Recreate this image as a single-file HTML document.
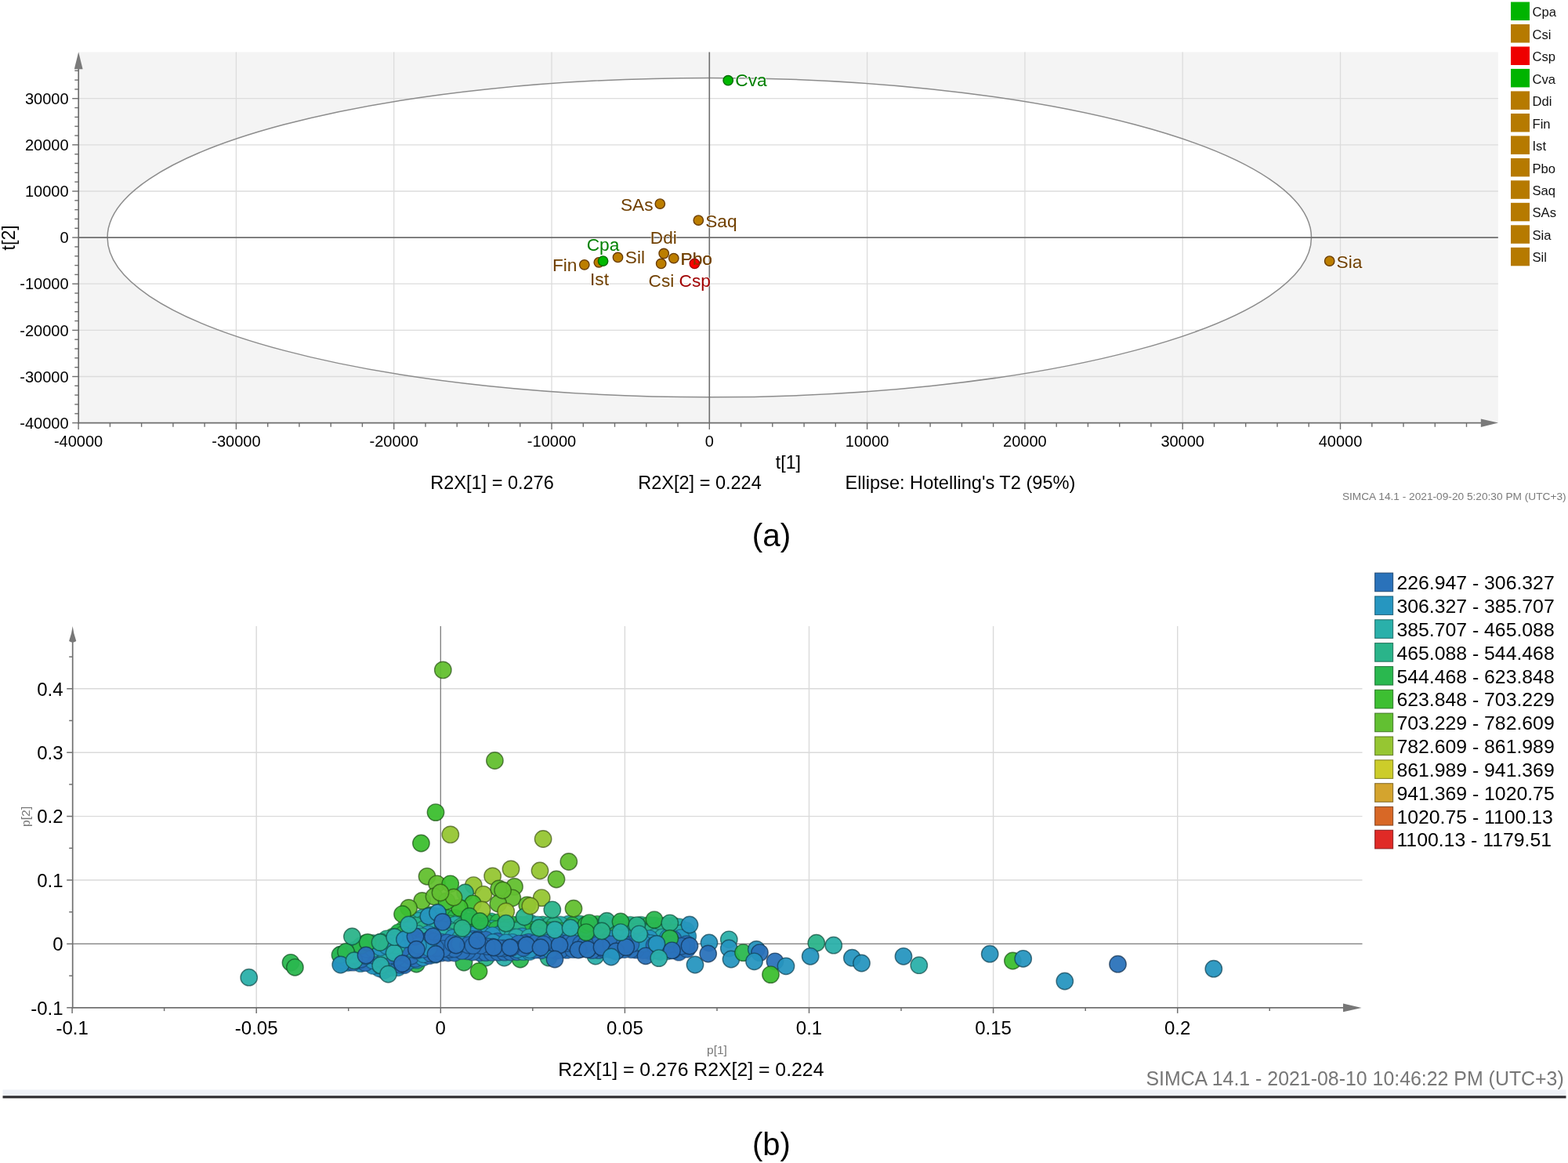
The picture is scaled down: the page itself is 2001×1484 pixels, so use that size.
<!DOCTYPE html>
<html><head><meta charset="utf-8"><title>SIMCA score and loading plots</title>
<style>
html,body{margin:0;padding:0;background:#fff;}
body{width:2001px;height:1484px;overflow:hidden;}
svg{display:block;font-family:'Liberation Sans', Arial, Helvetica, sans-serif;}
</style></head>
<body>
<svg width="2001" height="1484" viewBox="0 0 2001 1484">
<rect width="2001" height="1484" fill="#fff"/>
<rect x="101.0" y="66.5" width="1810.8" height="473.1" fill="#f4f4f4"/>
<ellipse cx="905.3" cy="303.1" rx="768.2" ry="203.7" fill="#ffffff"/>
<line x1="301.4" y1="66.5" x2="301.4" y2="539.6" stroke="#dcdcdc" stroke-width="1.3"/>
<line x1="502.7" y1="66.5" x2="502.7" y2="539.6" stroke="#dcdcdc" stroke-width="1.3"/>
<line x1="704.0" y1="66.5" x2="704.0" y2="539.6" stroke="#dcdcdc" stroke-width="1.3"/>
<line x1="1106.6" y1="66.5" x2="1106.6" y2="539.6" stroke="#dcdcdc" stroke-width="1.3"/>
<line x1="1307.9" y1="66.5" x2="1307.9" y2="539.6" stroke="#dcdcdc" stroke-width="1.3"/>
<line x1="1509.2" y1="66.5" x2="1509.2" y2="539.6" stroke="#dcdcdc" stroke-width="1.3"/>
<line x1="1710.5" y1="66.5" x2="1710.5" y2="539.6" stroke="#dcdcdc" stroke-width="1.3"/>
<line x1="100.2" y1="480.5" x2="1911.8" y2="480.5" stroke="#dcdcdc" stroke-width="1.3"/>
<line x1="100.2" y1="421.4" x2="1911.8" y2="421.4" stroke="#dcdcdc" stroke-width="1.3"/>
<line x1="100.2" y1="362.2" x2="1911.8" y2="362.2" stroke="#dcdcdc" stroke-width="1.3"/>
<line x1="100.2" y1="244.0" x2="1911.8" y2="244.0" stroke="#dcdcdc" stroke-width="1.3"/>
<line x1="100.2" y1="184.8" x2="1911.8" y2="184.8" stroke="#dcdcdc" stroke-width="1.3"/>
<line x1="100.2" y1="125.7" x2="1911.8" y2="125.7" stroke="#dcdcdc" stroke-width="1.3"/>
<ellipse cx="905.3" cy="303.1" rx="768.2" ry="203.7" fill="none" stroke="#8c8c8c" stroke-width="1.5"/>
<line x1="905.3" y1="66.5" x2="905.3" y2="539.6" stroke="#6e6e6e" stroke-width="1.6"/>
<line x1="100.2" y1="303.1" x2="1911.8" y2="303.1" stroke="#6e6e6e" stroke-width="1.6"/>
<line x1="100.2" y1="88" x2="100.2" y2="540.4" stroke="#6e6e6e" stroke-width="1.7"/>
<path d="M100.2 66.3 L105.6 88.2 L94.8 88.2 Z" fill="#7a7a7a"/>
<line x1="99.4" y1="539.6" x2="1890" y2="539.6" stroke="#6e6e6e" stroke-width="1.7"/>
<path d="M1912 539.6 L1889.8 534.6 L1889.8 545 Z" fill="#7a7a7a"/>
<line x1="92.2" y1="539.6" x2="100.2" y2="539.6" stroke="#6e6e6e" stroke-width="1.4"/>
<line x1="95.3" y1="527.8" x2="100.2" y2="527.8" stroke="#6e6e6e" stroke-width="1.4"/>
<line x1="95.3" y1="516.0" x2="100.2" y2="516.0" stroke="#6e6e6e" stroke-width="1.4"/>
<line x1="95.3" y1="504.1" x2="100.2" y2="504.1" stroke="#6e6e6e" stroke-width="1.4"/>
<line x1="95.3" y1="492.3" x2="100.2" y2="492.3" stroke="#6e6e6e" stroke-width="1.4"/>
<line x1="92.2" y1="480.5" x2="100.2" y2="480.5" stroke="#6e6e6e" stroke-width="1.4"/>
<line x1="95.3" y1="468.7" x2="100.2" y2="468.7" stroke="#6e6e6e" stroke-width="1.4"/>
<line x1="95.3" y1="456.8" x2="100.2" y2="456.8" stroke="#6e6e6e" stroke-width="1.4"/>
<line x1="95.3" y1="445.0" x2="100.2" y2="445.0" stroke="#6e6e6e" stroke-width="1.4"/>
<line x1="95.3" y1="433.2" x2="100.2" y2="433.2" stroke="#6e6e6e" stroke-width="1.4"/>
<line x1="92.2" y1="421.4" x2="100.2" y2="421.4" stroke="#6e6e6e" stroke-width="1.4"/>
<line x1="95.3" y1="409.5" x2="100.2" y2="409.5" stroke="#6e6e6e" stroke-width="1.4"/>
<line x1="95.3" y1="397.7" x2="100.2" y2="397.7" stroke="#6e6e6e" stroke-width="1.4"/>
<line x1="95.3" y1="385.9" x2="100.2" y2="385.9" stroke="#6e6e6e" stroke-width="1.4"/>
<line x1="95.3" y1="374.1" x2="100.2" y2="374.1" stroke="#6e6e6e" stroke-width="1.4"/>
<line x1="92.2" y1="362.2" x2="100.2" y2="362.2" stroke="#6e6e6e" stroke-width="1.4"/>
<line x1="95.3" y1="350.4" x2="100.2" y2="350.4" stroke="#6e6e6e" stroke-width="1.4"/>
<line x1="95.3" y1="338.6" x2="100.2" y2="338.6" stroke="#6e6e6e" stroke-width="1.4"/>
<line x1="95.3" y1="326.8" x2="100.2" y2="326.8" stroke="#6e6e6e" stroke-width="1.4"/>
<line x1="95.3" y1="314.9" x2="100.2" y2="314.9" stroke="#6e6e6e" stroke-width="1.4"/>
<line x1="92.2" y1="303.1" x2="100.2" y2="303.1" stroke="#6e6e6e" stroke-width="1.4"/>
<line x1="95.3" y1="291.3" x2="100.2" y2="291.3" stroke="#6e6e6e" stroke-width="1.4"/>
<line x1="95.3" y1="279.4" x2="100.2" y2="279.4" stroke="#6e6e6e" stroke-width="1.4"/>
<line x1="95.3" y1="267.6" x2="100.2" y2="267.6" stroke="#6e6e6e" stroke-width="1.4"/>
<line x1="95.3" y1="255.8" x2="100.2" y2="255.8" stroke="#6e6e6e" stroke-width="1.4"/>
<line x1="92.2" y1="244.0" x2="100.2" y2="244.0" stroke="#6e6e6e" stroke-width="1.4"/>
<line x1="95.3" y1="232.1" x2="100.2" y2="232.1" stroke="#6e6e6e" stroke-width="1.4"/>
<line x1="95.3" y1="220.3" x2="100.2" y2="220.3" stroke="#6e6e6e" stroke-width="1.4"/>
<line x1="95.3" y1="208.5" x2="100.2" y2="208.5" stroke="#6e6e6e" stroke-width="1.4"/>
<line x1="95.3" y1="196.7" x2="100.2" y2="196.7" stroke="#6e6e6e" stroke-width="1.4"/>
<line x1="92.2" y1="184.8" x2="100.2" y2="184.8" stroke="#6e6e6e" stroke-width="1.4"/>
<line x1="95.3" y1="173.0" x2="100.2" y2="173.0" stroke="#6e6e6e" stroke-width="1.4"/>
<line x1="95.3" y1="161.2" x2="100.2" y2="161.2" stroke="#6e6e6e" stroke-width="1.4"/>
<line x1="95.3" y1="149.4" x2="100.2" y2="149.4" stroke="#6e6e6e" stroke-width="1.4"/>
<line x1="95.3" y1="137.5" x2="100.2" y2="137.5" stroke="#6e6e6e" stroke-width="1.4"/>
<line x1="92.2" y1="125.7" x2="100.2" y2="125.7" stroke="#6e6e6e" stroke-width="1.4"/>
<line x1="95.3" y1="113.9" x2="100.2" y2="113.9" stroke="#6e6e6e" stroke-width="1.4"/>
<line x1="95.3" y1="102.1" x2="100.2" y2="102.1" stroke="#6e6e6e" stroke-width="1.4"/>
<line x1="95.3" y1="90.2" x2="100.2" y2="90.2" stroke="#6e6e6e" stroke-width="1.4"/>
<line x1="100.1" y1="539.6" x2="100.1" y2="547.9" stroke="#6e6e6e" stroke-width="1.4"/>
<line x1="140.4" y1="539.6" x2="140.4" y2="544.8" stroke="#6e6e6e" stroke-width="1.4"/>
<line x1="180.6" y1="539.6" x2="180.6" y2="544.8" stroke="#6e6e6e" stroke-width="1.4"/>
<line x1="220.9" y1="539.6" x2="220.9" y2="544.8" stroke="#6e6e6e" stroke-width="1.4"/>
<line x1="261.1" y1="539.6" x2="261.1" y2="544.8" stroke="#6e6e6e" stroke-width="1.4"/>
<line x1="301.4" y1="539.6" x2="301.4" y2="547.9" stroke="#6e6e6e" stroke-width="1.4"/>
<line x1="341.7" y1="539.6" x2="341.7" y2="544.8" stroke="#6e6e6e" stroke-width="1.4"/>
<line x1="381.9" y1="539.6" x2="381.9" y2="544.8" stroke="#6e6e6e" stroke-width="1.4"/>
<line x1="422.2" y1="539.6" x2="422.2" y2="544.8" stroke="#6e6e6e" stroke-width="1.4"/>
<line x1="462.4" y1="539.6" x2="462.4" y2="544.8" stroke="#6e6e6e" stroke-width="1.4"/>
<line x1="502.7" y1="539.6" x2="502.7" y2="547.9" stroke="#6e6e6e" stroke-width="1.4"/>
<line x1="543.0" y1="539.6" x2="543.0" y2="544.8" stroke="#6e6e6e" stroke-width="1.4"/>
<line x1="583.2" y1="539.6" x2="583.2" y2="544.8" stroke="#6e6e6e" stroke-width="1.4"/>
<line x1="623.5" y1="539.6" x2="623.5" y2="544.8" stroke="#6e6e6e" stroke-width="1.4"/>
<line x1="663.7" y1="539.6" x2="663.7" y2="544.8" stroke="#6e6e6e" stroke-width="1.4"/>
<line x1="704.0" y1="539.6" x2="704.0" y2="547.9" stroke="#6e6e6e" stroke-width="1.4"/>
<line x1="744.3" y1="539.6" x2="744.3" y2="544.8" stroke="#6e6e6e" stroke-width="1.4"/>
<line x1="784.5" y1="539.6" x2="784.5" y2="544.8" stroke="#6e6e6e" stroke-width="1.4"/>
<line x1="824.8" y1="539.6" x2="824.8" y2="544.8" stroke="#6e6e6e" stroke-width="1.4"/>
<line x1="865.0" y1="539.6" x2="865.0" y2="544.8" stroke="#6e6e6e" stroke-width="1.4"/>
<line x1="905.3" y1="539.6" x2="905.3" y2="547.9" stroke="#6e6e6e" stroke-width="1.4"/>
<line x1="945.6" y1="539.6" x2="945.6" y2="544.8" stroke="#6e6e6e" stroke-width="1.4"/>
<line x1="985.8" y1="539.6" x2="985.8" y2="544.8" stroke="#6e6e6e" stroke-width="1.4"/>
<line x1="1026.1" y1="539.6" x2="1026.1" y2="544.8" stroke="#6e6e6e" stroke-width="1.4"/>
<line x1="1066.3" y1="539.6" x2="1066.3" y2="544.8" stroke="#6e6e6e" stroke-width="1.4"/>
<line x1="1106.6" y1="539.6" x2="1106.6" y2="547.9" stroke="#6e6e6e" stroke-width="1.4"/>
<line x1="1146.9" y1="539.6" x2="1146.9" y2="544.8" stroke="#6e6e6e" stroke-width="1.4"/>
<line x1="1187.1" y1="539.6" x2="1187.1" y2="544.8" stroke="#6e6e6e" stroke-width="1.4"/>
<line x1="1227.4" y1="539.6" x2="1227.4" y2="544.8" stroke="#6e6e6e" stroke-width="1.4"/>
<line x1="1267.6" y1="539.6" x2="1267.6" y2="544.8" stroke="#6e6e6e" stroke-width="1.4"/>
<line x1="1307.9" y1="539.6" x2="1307.9" y2="547.9" stroke="#6e6e6e" stroke-width="1.4"/>
<line x1="1348.2" y1="539.6" x2="1348.2" y2="544.8" stroke="#6e6e6e" stroke-width="1.4"/>
<line x1="1388.4" y1="539.6" x2="1388.4" y2="544.8" stroke="#6e6e6e" stroke-width="1.4"/>
<line x1="1428.7" y1="539.6" x2="1428.7" y2="544.8" stroke="#6e6e6e" stroke-width="1.4"/>
<line x1="1468.9" y1="539.6" x2="1468.9" y2="544.8" stroke="#6e6e6e" stroke-width="1.4"/>
<line x1="1509.2" y1="539.6" x2="1509.2" y2="547.9" stroke="#6e6e6e" stroke-width="1.4"/>
<line x1="1549.5" y1="539.6" x2="1549.5" y2="544.8" stroke="#6e6e6e" stroke-width="1.4"/>
<line x1="1589.7" y1="539.6" x2="1589.7" y2="544.8" stroke="#6e6e6e" stroke-width="1.4"/>
<line x1="1630.0" y1="539.6" x2="1630.0" y2="544.8" stroke="#6e6e6e" stroke-width="1.4"/>
<line x1="1670.2" y1="539.6" x2="1670.2" y2="544.8" stroke="#6e6e6e" stroke-width="1.4"/>
<line x1="1710.5" y1="539.6" x2="1710.5" y2="547.9" stroke="#6e6e6e" stroke-width="1.4"/>
<line x1="1750.8" y1="539.6" x2="1750.8" y2="544.8" stroke="#6e6e6e" stroke-width="1.4"/>
<line x1="1791.0" y1="539.6" x2="1791.0" y2="544.8" stroke="#6e6e6e" stroke-width="1.4"/>
<line x1="1831.3" y1="539.6" x2="1831.3" y2="544.8" stroke="#6e6e6e" stroke-width="1.4"/>
<line x1="1871.5" y1="539.6" x2="1871.5" y2="544.8" stroke="#6e6e6e" stroke-width="1.4"/>
<text x="87.6" y="546.7" text-anchor="end" font-size="20" fill="#000">-40000</text>
<text x="87.6" y="487.6" text-anchor="end" font-size="20" fill="#000">-30000</text>
<text x="87.6" y="428.5" text-anchor="end" font-size="20" fill="#000">-20000</text>
<text x="87.6" y="369.3" text-anchor="end" font-size="20" fill="#000">-10000</text>
<text x="87.6" y="310.2" text-anchor="end" font-size="20" fill="#000">0</text>
<text x="87.6" y="251.1" text-anchor="end" font-size="20" fill="#000">10000</text>
<text x="87.6" y="191.9" text-anchor="end" font-size="20" fill="#000">20000</text>
<text x="87.6" y="132.8" text-anchor="end" font-size="20" fill="#000">30000</text>
<text x="100.1" y="569.9" text-anchor="middle" font-size="20" fill="#000">-40000</text>
<text x="301.4" y="569.9" text-anchor="middle" font-size="20" fill="#000">-30000</text>
<text x="502.7" y="569.9" text-anchor="middle" font-size="20" fill="#000">-20000</text>
<text x="704.0" y="569.9" text-anchor="middle" font-size="20" fill="#000">-10000</text>
<text x="905.3" y="569.9" text-anchor="middle" font-size="20" fill="#000">0</text>
<text x="1106.6" y="569.9" text-anchor="middle" font-size="20" fill="#000">10000</text>
<text x="1307.9" y="569.9" text-anchor="middle" font-size="20" fill="#000">20000</text>
<text x="1509.2" y="569.9" text-anchor="middle" font-size="20" fill="#000">30000</text>
<text x="1710.5" y="569.9" text-anchor="middle" font-size="20" fill="#000">40000</text>
<text x="1005.9" y="597.8" text-anchor="middle" font-size="23.2" fill="#000">t[1]</text>
<text transform="translate(19.4 303.3) rotate(-90)" text-anchor="middle" font-size="23.2" fill="#000">t[2]</text>
<text x="549.3" y="623.7" font-size="23.5" fill="#000">R2X[1] = 0.276</text>
<text x="814.3" y="623.7" font-size="23.5" fill="#000">R2X[2] = 0.224</text>
<text x="1078.5" y="623.7" font-size="23.6" fill="#000">Ellipse: Hotelling's T2 (95%)</text>
<text x="1712.9" y="638" font-size="13.7" fill="#7a7a7a">SIMCA 14.1 - 2021-09-20 5:20:30 PM (UTC+3)</text>
<text x="984.4" y="697" text-anchor="middle" font-size="40.5" fill="#000">(a)</text>
<rect x="1928" y="2.5" width="24" height="23.5" fill="#00b400"/>
<text x="1955.5" y="21.1" font-size="16.6" fill="#111">Cpa</text>
<rect x="1928" y="31.0" width="24" height="23.5" fill="#b67a00"/>
<text x="1955.5" y="49.6" font-size="16.6" fill="#111">Csi</text>
<rect x="1928" y="59.5" width="24" height="23.5" fill="#ee0000"/>
<text x="1955.5" y="78.1" font-size="16.6" fill="#111">Csp</text>
<rect x="1928" y="87.9" width="24" height="23.5" fill="#00b400"/>
<text x="1955.5" y="106.5" font-size="16.6" fill="#111">Cva</text>
<rect x="1928" y="116.4" width="24" height="23.5" fill="#b67a00"/>
<text x="1955.5" y="135.0" font-size="16.6" fill="#111">Ddi</text>
<rect x="1928" y="144.9" width="24" height="23.5" fill="#b67a00"/>
<text x="1955.5" y="163.5" font-size="16.6" fill="#111">Fin</text>
<rect x="1928" y="173.4" width="24" height="23.5" fill="#b67a00"/>
<text x="1955.5" y="192.0" font-size="16.6" fill="#111">Ist</text>
<rect x="1928" y="201.9" width="24" height="23.5" fill="#b67a00"/>
<text x="1955.5" y="220.5" font-size="16.6" fill="#111">Pbo</text>
<rect x="1928" y="230.3" width="24" height="23.5" fill="#b67a00"/>
<text x="1955.5" y="248.9" font-size="16.6" fill="#111">Saq</text>
<rect x="1928" y="258.8" width="24" height="23.5" fill="#b67a00"/>
<text x="1955.5" y="277.4" font-size="16.6" fill="#111">SAs</text>
<rect x="1928" y="287.3" width="24" height="23.5" fill="#b67a00"/>
<text x="1955.5" y="305.9" font-size="16.6" fill="#111">Sia</text>
<rect x="1928" y="315.8" width="24" height="23.5" fill="#b67a00"/>
<text x="1955.5" y="334.4" font-size="16.6" fill="#111">Sil</text>
<text x="833.5" y="268.5" text-anchor="end" font-size="22.7" fill="#704000" stroke="#fff" stroke-width="2" stroke-opacity="0.6" paint-order="stroke">SAs</text>
<text x="900.2" y="289.5" text-anchor="start" font-size="22.7" fill="#704000" stroke="#fff" stroke-width="2" stroke-opacity="0.6" paint-order="stroke">Saq</text>
<text x="736.5" y="345.9" text-anchor="end" font-size="22.7" fill="#704000" stroke="#fff" stroke-width="2" stroke-opacity="0.6" paint-order="stroke">Fin</text>
<text x="765.0" y="364.3" text-anchor="middle" font-size="22.7" fill="#704000" stroke="#fff" stroke-width="2" stroke-opacity="0.6" paint-order="stroke">Ist</text>
<text x="769.5" y="319.6" text-anchor="middle" font-size="22.7" fill="#008000" stroke="#fff" stroke-width="2" stroke-opacity="0.6" paint-order="stroke">Cpa</text>
<text x="797.8" y="336.4" text-anchor="start" font-size="22.7" fill="#704000" stroke="#fff" stroke-width="2" stroke-opacity="0.6" paint-order="stroke">Sil</text>
<text x="846.8" y="310.5" text-anchor="middle" font-size="22.7" fill="#704000" stroke="#fff" stroke-width="2" stroke-opacity="0.6" paint-order="stroke">Ddi</text>
<text x="843.9" y="365.7" text-anchor="middle" font-size="22.7" fill="#704000" stroke="#fff" stroke-width="2" stroke-opacity="0.6" paint-order="stroke">Csi</text>
<text x="868.5" y="337.7" text-anchor="start" font-size="22.7" fill="#704000" stroke="#fff" stroke-width="2" stroke-opacity="0.6" paint-order="stroke">Pbo</text>
<text x="886.7" y="365.7" text-anchor="middle" font-size="22.7" fill="#a00000" stroke="#fff" stroke-width="2" stroke-opacity="0.6" paint-order="stroke">Csp</text>
<text x="938.3" y="110.2" text-anchor="start" font-size="22.7" fill="#008000" stroke="#fff" stroke-width="2" stroke-opacity="0.6" paint-order="stroke">Cva</text>
<text x="1705.5" y="341.6" text-anchor="start" font-size="22.7" fill="#704000" stroke="#fff" stroke-width="2" stroke-opacity="0.6" paint-order="stroke">Sia</text>
<circle cx="842.3" cy="260.1" r="6.2" fill="#bc7e00" stroke="#6a3c00" stroke-width="1.4"/>
<circle cx="891.3" cy="281.1" r="6.2" fill="#bc7e00" stroke="#6a3c00" stroke-width="1.4"/>
<circle cx="745.8" cy="337.8" r="6.2" fill="#bc7e00" stroke="#6a3c00" stroke-width="1.4"/>
<circle cx="764.3" cy="334.8" r="6.2" fill="#bc7e00" stroke="#6a3c00" stroke-width="1.4"/>
<circle cx="769.6" cy="333.1" r="6.2" fill="#00b800" stroke="#006a00" stroke-width="1.4"/>
<circle cx="788.5" cy="328.4" r="6.2" fill="#bc7e00" stroke="#6a3c00" stroke-width="1.4"/>
<circle cx="847.2" cy="323.5" r="6.2" fill="#bc7e00" stroke="#6a3c00" stroke-width="1.4"/>
<circle cx="843.7" cy="336.4" r="6.2" fill="#bc7e00" stroke="#6a3c00" stroke-width="1.4"/>
<circle cx="859.8" cy="329.6" r="6.2" fill="#bc7e00" stroke="#6a3c00" stroke-width="1.4"/>
<circle cx="886.4" cy="336.4" r="6.2" fill="#ff0000" stroke="#a00000" stroke-width="1.4"/>
<circle cx="929.2" cy="102.7" r="6.2" fill="#00b800" stroke="#006a00" stroke-width="1.4"/>
<circle cx="1696.7" cy="333.1" r="6.2" fill="#bc7e00" stroke="#6a3c00" stroke-width="1.4"/>
<text x="868.5" y="337.7" font-size="22.7" fill="#704000" fill-opacity="0.8">Pbo</text>
<defs><filter id="soft" x="0" y="0" width="1" height="1"><feGaussianBlur stdDeviation="0.45"/></filter></defs>
<g filter="url(#soft)">
<line x1="327.2" y1="799.0" x2="327.2" y2="1285.9" stroke="#dadada" stroke-width="1.4"/>
<line x1="797.4" y1="799.0" x2="797.4" y2="1285.9" stroke="#dadada" stroke-width="1.4"/>
<line x1="1032.5" y1="799.0" x2="1032.5" y2="1285.9" stroke="#dadada" stroke-width="1.4"/>
<line x1="1267.6" y1="799.0" x2="1267.6" y2="1285.9" stroke="#dadada" stroke-width="1.4"/>
<line x1="1502.7" y1="799.0" x2="1502.7" y2="1285.9" stroke="#dadada" stroke-width="1.4"/>
<line x1="92.7" y1="1123.0" x2="1738.5" y2="1123.0" stroke="#dadada" stroke-width="1.4"/>
<line x1="92.7" y1="1041.6" x2="1738.5" y2="1041.6" stroke="#dadada" stroke-width="1.4"/>
<line x1="92.7" y1="960.2" x2="1738.5" y2="960.2" stroke="#dadada" stroke-width="1.4"/>
<line x1="92.7" y1="878.8" x2="1738.5" y2="878.8" stroke="#dadada" stroke-width="1.4"/>
<line x1="562.3" y1="799.0" x2="562.3" y2="1285.9" stroke="#7c7c7c" stroke-width="1.3"/>
<line x1="92.7" y1="1204.4" x2="1738.5" y2="1204.4" stroke="#7c7c7c" stroke-width="1.3"/>
<line x1="92.7" y1="818" x2="92.7" y2="1286.6000000000001" stroke="#707070" stroke-width="1.7"/>
<path d="M92.7 799 Q93.7 808 97.3 818 Q92.7 821.5 88.10000000000001 818 Q91.7 808 92.7 799 Z" fill="#777"/>
<line x1="91.9" y1="1285.9" x2="1716" y2="1285.9" stroke="#707070" stroke-width="1.7"/>
<path d="M1737.5 1285.9 L1714 1280.6 L1714 1291.2 Z" fill="#777"/>
<line x1="85.2" y1="1285.8" x2="92.7" y2="1285.8" stroke="#707070" stroke-width="1.5"/>
<line x1="88.2" y1="1245.1" x2="92.7" y2="1245.1" stroke="#707070" stroke-width="1.5"/>
<line x1="85.2" y1="1204.4" x2="92.7" y2="1204.4" stroke="#707070" stroke-width="1.5"/>
<line x1="88.2" y1="1163.7" x2="92.7" y2="1163.7" stroke="#707070" stroke-width="1.5"/>
<line x1="85.2" y1="1123.0" x2="92.7" y2="1123.0" stroke="#707070" stroke-width="1.5"/>
<line x1="88.2" y1="1082.3" x2="92.7" y2="1082.3" stroke="#707070" stroke-width="1.5"/>
<line x1="85.2" y1="1041.6" x2="92.7" y2="1041.6" stroke="#707070" stroke-width="1.5"/>
<line x1="88.2" y1="1000.9" x2="92.7" y2="1000.9" stroke="#707070" stroke-width="1.5"/>
<line x1="85.2" y1="960.2" x2="92.7" y2="960.2" stroke="#707070" stroke-width="1.5"/>
<line x1="88.2" y1="919.5" x2="92.7" y2="919.5" stroke="#707070" stroke-width="1.5"/>
<line x1="85.2" y1="878.8" x2="92.7" y2="878.8" stroke="#707070" stroke-width="1.5"/>
<line x1="88.2" y1="838.1" x2="92.7" y2="838.1" stroke="#707070" stroke-width="1.5"/>
<line x1="92.1" y1="1285.9" x2="92.1" y2="1292.9" stroke="#707070" stroke-width="1.5"/>
<line x1="209.6" y1="1285.9" x2="209.6" y2="1290.1" stroke="#707070" stroke-width="1.5"/>
<line x1="327.2" y1="1285.9" x2="327.2" y2="1292.9" stroke="#707070" stroke-width="1.5"/>
<line x1="444.7" y1="1285.9" x2="444.7" y2="1290.1" stroke="#707070" stroke-width="1.5"/>
<line x1="562.3" y1="1285.9" x2="562.3" y2="1292.9" stroke="#707070" stroke-width="1.5"/>
<line x1="679.8" y1="1285.9" x2="679.8" y2="1290.1" stroke="#707070" stroke-width="1.5"/>
<line x1="797.4" y1="1285.9" x2="797.4" y2="1292.9" stroke="#707070" stroke-width="1.5"/>
<line x1="915.0" y1="1285.9" x2="915.0" y2="1290.1" stroke="#707070" stroke-width="1.5"/>
<line x1="1032.5" y1="1285.9" x2="1032.5" y2="1292.9" stroke="#707070" stroke-width="1.5"/>
<line x1="1150.0" y1="1285.9" x2="1150.0" y2="1290.1" stroke="#707070" stroke-width="1.5"/>
<line x1="1267.6" y1="1285.9" x2="1267.6" y2="1292.9" stroke="#707070" stroke-width="1.5"/>
<line x1="1385.2" y1="1285.9" x2="1385.2" y2="1290.1" stroke="#707070" stroke-width="1.5"/>
<line x1="1502.7" y1="1285.9" x2="1502.7" y2="1292.9" stroke="#707070" stroke-width="1.5"/>
<line x1="1620.2" y1="1285.9" x2="1620.2" y2="1290.1" stroke="#707070" stroke-width="1.5"/>
<text x="80.5" y="887.6" text-anchor="end" font-size="24" fill="#000">0.4</text>
<text x="80.5" y="969.0" text-anchor="end" font-size="24" fill="#000">0.3</text>
<text x="80.5" y="1050.4" text-anchor="end" font-size="24" fill="#000">0.2</text>
<text x="80.5" y="1131.8" text-anchor="end" font-size="24" fill="#000">0.1</text>
<text x="80.5" y="1213.2" text-anchor="end" font-size="24" fill="#000">0</text>
<text x="80.5" y="1294.6" text-anchor="end" font-size="24" fill="#000">-0.1</text>
<text x="92.1" y="1320.3" text-anchor="middle" font-size="24" fill="#000">-0.1</text>
<text x="327.2" y="1320.3" text-anchor="middle" font-size="24" fill="#000">-0.05</text>
<text x="562.3" y="1320.3" text-anchor="middle" font-size="24" fill="#000">0</text>
<text x="797.4" y="1320.3" text-anchor="middle" font-size="24" fill="#000">0.05</text>
<text x="1032.5" y="1320.3" text-anchor="middle" font-size="24" fill="#000">0.1</text>
<text x="1267.6" y="1320.3" text-anchor="middle" font-size="24" fill="#000">0.15</text>
<text x="1502.7" y="1320.3" text-anchor="middle" font-size="24" fill="#000">0.2</text>
<text x="915" y="1345" text-anchor="middle" font-size="15.5" fill="#777">p[1]</text>
<text transform="translate(37.5 1042) rotate(-90)" text-anchor="middle" font-size="15.5" fill="#777">p[2]</text>
<text x="712.3" y="1372.6" font-size="24.8" fill="#000">R2X[1] = 0.276 R2X[2] = 0.224</text>
<text x="1462.4" y="1385" font-size="24.9" fill="#777">SIMCA 14.1 - 2021-08-10 10:46:22 PM (UTC+3)</text>
<rect x="3.5" y="1390.5" width="1995" height="7.5" fill="#eef1f7"/>
<rect x="3.5" y="1398.2" width="1995" height="3.2" fill="#2e2e33"/>
<rect x="1754.6" y="731.1" width="23" height="23.6" fill="#2b72ba" stroke="#173e66" stroke-opacity="0.8" stroke-width="1.1"/>
<text x="1782.4" y="752.2" font-size="24.8" fill="#000">226.947 - 306.327</text>
<rect x="1754.6" y="760.9" width="23" height="23.6" fill="#2796c0" stroke="#155269" stroke-opacity="0.8" stroke-width="1.1"/>
<text x="1782.4" y="782.0" font-size="24.8" fill="#000">306.327 - 385.707</text>
<rect x="1754.6" y="790.8" width="23" height="23.6" fill="#2bb0aa" stroke="#17605d" stroke-opacity="0.8" stroke-width="1.1"/>
<text x="1782.4" y="811.9" font-size="24.8" fill="#000">385.707 - 465.088</text>
<rect x="1754.6" y="820.6" width="23" height="23.6" fill="#2ab48a" stroke="#17634b" stroke-opacity="0.8" stroke-width="1.1"/>
<text x="1782.4" y="841.7" font-size="24.8" fill="#000">465.088 - 544.468</text>
<rect x="1754.6" y="850.5" width="23" height="23.6" fill="#2bb850" stroke="#17652c" stroke-opacity="0.8" stroke-width="1.1"/>
<text x="1782.4" y="871.6" font-size="24.8" fill="#000">544.468 - 623.848</text>
<rect x="1754.6" y="880.3" width="23" height="23.6" fill="#3cbf30" stroke="#21691a" stroke-opacity="0.8" stroke-width="1.1"/>
<text x="1782.4" y="901.4" font-size="24.8" fill="#000">623.848 - 703.229</text>
<rect x="1754.6" y="910.1" width="23" height="23.6" fill="#62c030" stroke="#35691a" stroke-opacity="0.8" stroke-width="1.1"/>
<text x="1782.4" y="931.2" font-size="24.8" fill="#000">703.229 - 782.609</text>
<rect x="1754.6" y="940.0" width="23" height="23.6" fill="#96c632" stroke="#526c1b" stroke-opacity="0.8" stroke-width="1.1"/>
<text x="1782.4" y="961.1" font-size="24.8" fill="#000">782.609 - 861.989</text>
<rect x="1754.6" y="969.8" width="23" height="23.6" fill="#cccc2a" stroke="#707017" stroke-opacity="0.8" stroke-width="1.1"/>
<text x="1782.4" y="990.9" font-size="24.8" fill="#000">861.989 - 941.369</text>
<rect x="1754.6" y="999.7" width="23" height="23.6" fill="#d4a42e" stroke="#745a19" stroke-opacity="0.8" stroke-width="1.1"/>
<text x="1782.4" y="1020.8" font-size="24.8" fill="#000">941.369 - 1020.75</text>
<rect x="1754.6" y="1029.5" width="23" height="23.6" fill="#d86828" stroke="#763916" stroke-opacity="0.8" stroke-width="1.1"/>
<text x="1782.4" y="1050.6" font-size="24.8" fill="#000">1020.75 - 1100.13</text>
<rect x="1754.6" y="1059.3" width="23" height="23.6" fill="#e02a26" stroke="#7b1714" stroke-opacity="0.8" stroke-width="1.1"/>
<text x="1782.4" y="1080.4" font-size="24.8" fill="#000">1100.13 - 1179.51</text>
<circle cx="531.4" cy="1230.0" r="10.7" fill="#2bb850" fill-opacity="0.95" stroke="#114920" stroke-opacity="0.68" stroke-width="1.4"/>
<circle cx="592.0" cy="1228.0" r="10.7" fill="#2bb850" fill-opacity="0.95" stroke="#114920" stroke-opacity="0.68" stroke-width="1.4"/>
<circle cx="643.5" cy="1222.0" r="10.7" fill="#2bb0aa" fill-opacity="0.95" stroke="#114644" stroke-opacity="0.68" stroke-width="1.4"/>
<circle cx="664.0" cy="1224.0" r="10.7" fill="#2bb850" fill-opacity="0.95" stroke="#114920" stroke-opacity="0.68" stroke-width="1.4"/>
<circle cx="620.0" cy="1222.0" r="10.7" fill="#2ab48a" fill-opacity="0.95" stroke="#104837" stroke-opacity="0.68" stroke-width="1.4"/>
<circle cx="700.0" cy="1222.0" r="10.7" fill="#2ab48a" fill-opacity="0.95" stroke="#104837" stroke-opacity="0.68" stroke-width="1.4"/>
<circle cx="760.0" cy="1220.0" r="10.7" fill="#2bb0aa" fill-opacity="0.95" stroke="#114644" stroke-opacity="0.68" stroke-width="1.4"/>
<circle cx="549.7" cy="1167.4" r="10.7" fill="#2bb850" stroke="#124d21" stroke-opacity="0.45" stroke-width="1.4"/>
<circle cx="556.8" cy="1169.1" r="10.7" fill="#2bb850" stroke="#124d21" stroke-opacity="0.45" stroke-width="1.4"/>
<circle cx="562.3" cy="1169.7" r="10.7" fill="#2ab48a" stroke="#114b39" stroke-opacity="0.45" stroke-width="1.4"/>
<circle cx="539.0" cy="1170.9" r="10.7" fill="#2bb0aa" stroke="#124947" stroke-opacity="0.45" stroke-width="1.4"/>
<circle cx="571.7" cy="1171.2" r="10.7" fill="#2bb850" stroke="#124d21" stroke-opacity="0.45" stroke-width="1.4"/>
<circle cx="580.9" cy="1171.3" r="10.7" fill="#2bb850" stroke="#124d21" stroke-opacity="0.45" stroke-width="1.4"/>
<circle cx="588.8" cy="1173.0" r="10.7" fill="#2ab48a" stroke="#114b39" stroke-opacity="0.45" stroke-width="1.4"/>
<circle cx="533.6" cy="1175.0" r="10.7" fill="#2bb0aa" stroke="#124947" stroke-opacity="0.45" stroke-width="1.4"/>
<circle cx="602.5" cy="1175.3" r="10.7" fill="#2bb850" stroke="#124d21" stroke-opacity="0.45" stroke-width="1.4"/>
<circle cx="490.3" cy="1238.5" r="10.7" fill="#2b72ba" stroke="#122f4e" stroke-opacity="0.45" stroke-width="1.4"/>
<circle cx="554.6" cy="1175.5" r="10.7" fill="#2ab48a" stroke="#114b39" stroke-opacity="0.45" stroke-width="1.4"/>
<circle cx="595.8" cy="1175.5" r="10.7" fill="#2bb850" stroke="#124d21" stroke-opacity="0.45" stroke-width="1.4"/>
<circle cx="546.1" cy="1175.5" r="10.7" fill="#2ab48a" stroke="#114b39" stroke-opacity="0.45" stroke-width="1.4"/>
<circle cx="626.6" cy="1175.7" r="10.7" fill="#2ab48a" stroke="#114b39" stroke-opacity="0.45" stroke-width="1.4"/>
<circle cx="612.5" cy="1175.9" r="10.7" fill="#2bb850" stroke="#124d21" stroke-opacity="0.45" stroke-width="1.4"/>
<circle cx="620.8" cy="1176.7" r="10.7" fill="#2bb850" stroke="#124d21" stroke-opacity="0.45" stroke-width="1.4"/>
<circle cx="635.9" cy="1176.7" r="10.7" fill="#2bb850" stroke="#124d21" stroke-opacity="0.45" stroke-width="1.4"/>
<circle cx="523.2" cy="1177.7" r="10.7" fill="#2ab48a" stroke="#114b39" stroke-opacity="0.45" stroke-width="1.4"/>
<circle cx="677.2" cy="1177.9" r="10.7" fill="#2bb0aa" stroke="#124947" stroke-opacity="0.45" stroke-width="1.4"/>
<circle cx="484.0" cy="1235.6" r="10.7" fill="#2796c0" stroke="#103f50" stroke-opacity="0.45" stroke-width="1.4"/>
<circle cx="573.5" cy="1178.6" r="10.7" fill="#2bb850" stroke="#124d21" stroke-opacity="0.45" stroke-width="1.4"/>
<circle cx="770.8" cy="1178.7" r="10.7" fill="#2ab48a" stroke="#114b39" stroke-opacity="0.45" stroke-width="1.4"/>
<circle cx="564.9" cy="1178.7" r="10.7" fill="#2bb0aa" stroke="#124947" stroke-opacity="0.45" stroke-width="1.4"/>
<circle cx="725.7" cy="1178.9" r="10.7" fill="#2bb0aa" stroke="#124947" stroke-opacity="0.45" stroke-width="1.4"/>
<circle cx="644.5" cy="1178.9" r="10.7" fill="#2bb850" stroke="#124d21" stroke-opacity="0.45" stroke-width="1.4"/>
<circle cx="501.2" cy="1235.0" r="10.7" fill="#2796c0" stroke="#103f50" stroke-opacity="0.45" stroke-width="1.4"/>
<circle cx="740.1" cy="1179.0" r="10.7" fill="#2ab48a" stroke="#114b39" stroke-opacity="0.45" stroke-width="1.4"/>
<circle cx="794.8" cy="1179.0" r="10.7" fill="#2ab48a" stroke="#114b39" stroke-opacity="0.45" stroke-width="1.4"/>
<circle cx="762.1" cy="1179.1" r="10.7" fill="#2bb850" stroke="#124d21" stroke-opacity="0.45" stroke-width="1.4"/>
<circle cx="508.0" cy="1234.8" r="10.7" fill="#2796c0" stroke="#103f50" stroke-opacity="0.45" stroke-width="1.4"/>
<circle cx="539.0" cy="1179.3" r="10.7" fill="#2ab48a" stroke="#114b39" stroke-opacity="0.45" stroke-width="1.4"/>
<circle cx="660.9" cy="1179.6" r="10.7" fill="#2bb850" stroke="#124d21" stroke-opacity="0.45" stroke-width="1.4"/>
<circle cx="652.5" cy="1179.6" r="10.7" fill="#2bb850" stroke="#124d21" stroke-opacity="0.45" stroke-width="1.4"/>
<circle cx="788.1" cy="1179.8" r="10.7" fill="#2ab48a" stroke="#114b39" stroke-opacity="0.45" stroke-width="1.4"/>
<circle cx="692.6" cy="1179.8" r="10.7" fill="#2ab48a" stroke="#114b39" stroke-opacity="0.45" stroke-width="1.4"/>
<circle cx="580.9" cy="1179.9" r="10.7" fill="#2bb0aa" stroke="#124947" stroke-opacity="0.45" stroke-width="1.4"/>
<circle cx="715.1" cy="1179.9" r="10.7" fill="#2bb0aa" stroke="#124947" stroke-opacity="0.45" stroke-width="1.4"/>
<circle cx="685.4" cy="1180.0" r="10.7" fill="#2bb0aa" stroke="#124947" stroke-opacity="0.45" stroke-width="1.4"/>
<circle cx="701.9" cy="1180.1" r="10.7" fill="#2ab48a" stroke="#114b39" stroke-opacity="0.45" stroke-width="1.4"/>
<circle cx="804.4" cy="1180.1" r="10.7" fill="#2ab48a" stroke="#114b39" stroke-opacity="0.45" stroke-width="1.4"/>
<circle cx="818.0" cy="1180.1" r="10.7" fill="#2ab48a" stroke="#114b39" stroke-opacity="0.45" stroke-width="1.4"/>
<circle cx="667.3" cy="1180.2" r="10.7" fill="#2bb850" stroke="#124d21" stroke-opacity="0.45" stroke-width="1.4"/>
<circle cx="828.1" cy="1180.5" r="10.7" fill="#2bb850" stroke="#124d21" stroke-opacity="0.45" stroke-width="1.4"/>
<circle cx="755.0" cy="1180.7" r="10.7" fill="#2ab48a" stroke="#114b39" stroke-opacity="0.45" stroke-width="1.4"/>
<circle cx="730.4" cy="1180.7" r="10.7" fill="#2bb850" stroke="#124d21" stroke-opacity="0.45" stroke-width="1.4"/>
<circle cx="835.0" cy="1180.7" r="10.7" fill="#2ab48a" stroke="#114b39" stroke-opacity="0.45" stroke-width="1.4"/>
<circle cx="707.6" cy="1180.9" r="10.7" fill="#2ab48a" stroke="#114b39" stroke-opacity="0.45" stroke-width="1.4"/>
<circle cx="749.0" cy="1180.9" r="10.7" fill="#2bb850" stroke="#124d21" stroke-opacity="0.45" stroke-width="1.4"/>
<circle cx="859.5" cy="1181.1" r="10.7" fill="#2bb850" stroke="#124d21" stroke-opacity="0.45" stroke-width="1.4"/>
<circle cx="531.0" cy="1181.1" r="10.7" fill="#2ab48a" stroke="#114b39" stroke-opacity="0.45" stroke-width="1.4"/>
<circle cx="850.6" cy="1181.4" r="10.7" fill="#2ab48a" stroke="#114b39" stroke-opacity="0.45" stroke-width="1.4"/>
<circle cx="845.9" cy="1181.5" r="10.7" fill="#2bb850" stroke="#124d21" stroke-opacity="0.45" stroke-width="1.4"/>
<circle cx="781.4" cy="1181.5" r="10.7" fill="#2ab48a" stroke="#114b39" stroke-opacity="0.45" stroke-width="1.4"/>
<circle cx="813.6" cy="1181.5" r="10.7" fill="#2ab48a" stroke="#114b39" stroke-opacity="0.45" stroke-width="1.4"/>
<circle cx="476.0" cy="1232.4" r="10.7" fill="#2796c0" stroke="#103f50" stroke-opacity="0.45" stroke-width="1.4"/>
<circle cx="485.1" cy="1232.0" r="10.7" fill="#2796c0" stroke="#103f50" stroke-opacity="0.45" stroke-width="1.4"/>
<circle cx="588.5" cy="1182.3" r="10.7" fill="#2ab48a" stroke="#114b39" stroke-opacity="0.45" stroke-width="1.4"/>
<circle cx="516.0" cy="1231.6" r="10.7" fill="#2b72ba" stroke="#122f4e" stroke-opacity="0.45" stroke-width="1.4"/>
<circle cx="866.6" cy="1182.7" r="10.7" fill="#2bb0aa" stroke="#124947" stroke-opacity="0.45" stroke-width="1.4"/>
<circle cx="595.3" cy="1182.8" r="10.7" fill="#2bb850" stroke="#124d21" stroke-opacity="0.45" stroke-width="1.4"/>
<circle cx="547.8" cy="1182.9" r="10.7" fill="#2bb850" stroke="#124d21" stroke-opacity="0.45" stroke-width="1.4"/>
<circle cx="509.9" cy="1231.0" r="10.7" fill="#2b72ba" stroke="#122f4e" stroke-opacity="0.45" stroke-width="1.4"/>
<circle cx="493.9" cy="1229.8" r="10.7" fill="#2b72ba" stroke="#122f4e" stroke-opacity="0.45" stroke-width="1.4"/>
<circle cx="605.3" cy="1184.3" r="10.7" fill="#2ab48a" stroke="#114b39" stroke-opacity="0.45" stroke-width="1.4"/>
<circle cx="460.0" cy="1229.6" r="10.7" fill="#2796c0" stroke="#103f50" stroke-opacity="0.45" stroke-width="1.4"/>
<circle cx="436.0" cy="1229.1" r="10.7" fill="#2b72ba" stroke="#122f4e" stroke-opacity="0.45" stroke-width="1.4"/>
<circle cx="611.3" cy="1184.9" r="10.7" fill="#2bb850" stroke="#124d21" stroke-opacity="0.45" stroke-width="1.4"/>
<circle cx="628.5" cy="1184.9" r="10.7" fill="#2bb0aa" stroke="#124947" stroke-opacity="0.45" stroke-width="1.4"/>
<circle cx="466.1" cy="1228.7" r="10.7" fill="#2b72ba" stroke="#122f4e" stroke-opacity="0.45" stroke-width="1.4"/>
<circle cx="619.2" cy="1185.4" r="10.7" fill="#2bb850" stroke="#124d21" stroke-opacity="0.45" stroke-width="1.4"/>
<circle cx="515.2" cy="1185.5" r="10.7" fill="#2bb850" stroke="#124d21" stroke-opacity="0.45" stroke-width="1.4"/>
<circle cx="444.0" cy="1228.5" r="10.7" fill="#2796c0" stroke="#103f50" stroke-opacity="0.45" stroke-width="1.4"/>
<circle cx="634.0" cy="1185.6" r="10.7" fill="#2bb850" stroke="#124d21" stroke-opacity="0.45" stroke-width="1.4"/>
<circle cx="540.4" cy="1185.7" r="10.7" fill="#2ab48a" stroke="#114b39" stroke-opacity="0.45" stroke-width="1.4"/>
<circle cx="450.4" cy="1228.1" r="10.7" fill="#2b72ba" stroke="#122f4e" stroke-opacity="0.45" stroke-width="1.4"/>
<circle cx="572.5" cy="1186.0" r="10.7" fill="#2bb0aa" stroke="#124947" stroke-opacity="0.45" stroke-width="1.4"/>
<circle cx="554.1" cy="1186.1" r="10.7" fill="#2bb0aa" stroke="#124947" stroke-opacity="0.45" stroke-width="1.4"/>
<circle cx="564.9" cy="1186.1" r="10.7" fill="#2bb0aa" stroke="#124947" stroke-opacity="0.45" stroke-width="1.4"/>
<circle cx="677.2" cy="1186.2" r="10.7" fill="#2bb850" stroke="#124d21" stroke-opacity="0.45" stroke-width="1.4"/>
<circle cx="669.4" cy="1186.5" r="10.7" fill="#2bb850" stroke="#124d21" stroke-opacity="0.45" stroke-width="1.4"/>
<circle cx="788.4" cy="1186.5" r="10.7" fill="#2bb850" stroke="#124d21" stroke-opacity="0.45" stroke-width="1.4"/>
<circle cx="796.1" cy="1186.5" r="10.7" fill="#2ab48a" stroke="#114b39" stroke-opacity="0.45" stroke-width="1.4"/>
<circle cx="725.1" cy="1186.6" r="10.7" fill="#2bb850" stroke="#124d21" stroke-opacity="0.45" stroke-width="1.4"/>
<circle cx="651.5" cy="1186.6" r="10.7" fill="#2ab48a" stroke="#114b39" stroke-opacity="0.45" stroke-width="1.4"/>
<circle cx="770.4" cy="1186.6" r="10.7" fill="#2ab48a" stroke="#114b39" stroke-opacity="0.45" stroke-width="1.4"/>
<circle cx="781.7" cy="1186.8" r="10.7" fill="#2bb850" stroke="#124d21" stroke-opacity="0.45" stroke-width="1.4"/>
<circle cx="755.0" cy="1186.8" r="10.7" fill="#2ab48a" stroke="#114b39" stroke-opacity="0.45" stroke-width="1.4"/>
<circle cx="643.6" cy="1187.0" r="10.7" fill="#2ab48a" stroke="#114b39" stroke-opacity="0.45" stroke-width="1.4"/>
<circle cx="700.3" cy="1187.1" r="10.7" fill="#2bb850" stroke="#124d21" stroke-opacity="0.45" stroke-width="1.4"/>
<circle cx="522.4" cy="1187.2" r="10.7" fill="#2ab48a" stroke="#114b39" stroke-opacity="0.45" stroke-width="1.4"/>
<circle cx="660.6" cy="1187.3" r="10.7" fill="#2ab48a" stroke="#114b39" stroke-opacity="0.45" stroke-width="1.4"/>
<circle cx="498.4" cy="1226.7" r="10.7" fill="#2b72ba" stroke="#122f4e" stroke-opacity="0.45" stroke-width="1.4"/>
<circle cx="875.7" cy="1187.3" r="10.7" fill="#2ab48a" stroke="#114b39" stroke-opacity="0.45" stroke-width="1.4"/>
<circle cx="685.8" cy="1187.4" r="10.7" fill="#2bb850" stroke="#124d21" stroke-opacity="0.45" stroke-width="1.4"/>
<circle cx="749.6" cy="1187.4" r="10.7" fill="#2ab48a" stroke="#114b39" stroke-opacity="0.45" stroke-width="1.4"/>
<circle cx="587.0" cy="1187.5" r="10.7" fill="#2ab48a" stroke="#114b39" stroke-opacity="0.45" stroke-width="1.4"/>
<circle cx="714.5" cy="1187.8" r="10.7" fill="#2bb850" stroke="#124d21" stroke-opacity="0.45" stroke-width="1.4"/>
<circle cx="693.4" cy="1187.9" r="10.7" fill="#2bb850" stroke="#124d21" stroke-opacity="0.45" stroke-width="1.4"/>
<circle cx="708.3" cy="1188.0" r="10.7" fill="#2bb0aa" stroke="#124947" stroke-opacity="0.45" stroke-width="1.4"/>
<circle cx="730.5" cy="1188.0" r="10.7" fill="#2bb0aa" stroke="#124947" stroke-opacity="0.45" stroke-width="1.4"/>
<circle cx="522.7" cy="1226.0" r="10.7" fill="#2796c0" stroke="#103f50" stroke-opacity="0.45" stroke-width="1.4"/>
<circle cx="834.2" cy="1188.1" r="10.7" fill="#2bb850" stroke="#124d21" stroke-opacity="0.45" stroke-width="1.4"/>
<circle cx="475.8" cy="1225.7" r="10.7" fill="#2796c0" stroke="#103f50" stroke-opacity="0.45" stroke-width="1.4"/>
<circle cx="738.8" cy="1188.4" r="10.7" fill="#2ab48a" stroke="#114b39" stroke-opacity="0.45" stroke-width="1.4"/>
<circle cx="437.7" cy="1225.5" r="10.7" fill="#2b72ba" stroke="#122f4e" stroke-opacity="0.45" stroke-width="1.4"/>
<circle cx="579.8" cy="1188.7" r="10.7" fill="#2ab48a" stroke="#114b39" stroke-opacity="0.45" stroke-width="1.4"/>
<circle cx="532.0" cy="1225.2" r="10.7" fill="#2796c0" stroke="#103f50" stroke-opacity="0.45" stroke-width="1.4"/>
<circle cx="820.6" cy="1188.9" r="10.7" fill="#2bb0aa" stroke="#124947" stroke-opacity="0.45" stroke-width="1.4"/>
<circle cx="805.9" cy="1189.0" r="10.7" fill="#2ab48a" stroke="#114b39" stroke-opacity="0.45" stroke-width="1.4"/>
<circle cx="812.8" cy="1189.1" r="10.7" fill="#2ab48a" stroke="#114b39" stroke-opacity="0.45" stroke-width="1.4"/>
<circle cx="830.0" cy="1189.2" r="10.7" fill="#2ab48a" stroke="#114b39" stroke-opacity="0.45" stroke-width="1.4"/>
<circle cx="764.7" cy="1189.2" r="10.7" fill="#2ab48a" stroke="#114b39" stroke-opacity="0.45" stroke-width="1.4"/>
<circle cx="850.7" cy="1189.5" r="10.7" fill="#2ab48a" stroke="#114b39" stroke-opacity="0.45" stroke-width="1.4"/>
<circle cx="460.6" cy="1224.3" r="10.7" fill="#2b72ba" stroke="#122f4e" stroke-opacity="0.45" stroke-width="1.4"/>
<circle cx="846.0" cy="1189.7" r="10.7" fill="#2ab48a" stroke="#114b39" stroke-opacity="0.45" stroke-width="1.4"/>
<circle cx="860.6" cy="1189.9" r="10.7" fill="#2bb850" stroke="#124d21" stroke-opacity="0.45" stroke-width="1.4"/>
<circle cx="508.2" cy="1190.0" r="10.7" fill="#2bb850" stroke="#124d21" stroke-opacity="0.45" stroke-width="1.4"/>
<circle cx="594.8" cy="1190.1" r="10.7" fill="#2796c0" stroke="#103f50" stroke-opacity="0.45" stroke-width="1.4"/>
<circle cx="517.1" cy="1223.8" r="10.7" fill="#2796c0" stroke="#103f50" stroke-opacity="0.45" stroke-width="1.4"/>
<circle cx="530.2" cy="1223.5" r="10.7" fill="#2b72ba" stroke="#122f4e" stroke-opacity="0.45" stroke-width="1.4"/>
<circle cx="483.2" cy="1223.0" r="10.7" fill="#2b72ba" stroke="#122f4e" stroke-opacity="0.45" stroke-width="1.4"/>
<circle cx="867.6" cy="1191.1" r="10.7" fill="#2bb0aa" stroke="#124947" stroke-opacity="0.45" stroke-width="1.4"/>
<circle cx="533.0" cy="1191.4" r="10.7" fill="#2bb0aa" stroke="#124947" stroke-opacity="0.45" stroke-width="1.4"/>
<circle cx="618.1" cy="1191.4" r="10.7" fill="#2796c0" stroke="#103f50" stroke-opacity="0.45" stroke-width="1.4"/>
<circle cx="442.7" cy="1222.4" r="10.7" fill="#2796c0" stroke="#103f50" stroke-opacity="0.45" stroke-width="1.4"/>
<circle cx="613.9" cy="1191.8" r="10.7" fill="#2796c0" stroke="#103f50" stroke-opacity="0.45" stroke-width="1.4"/>
<circle cx="546.7" cy="1191.8" r="10.7" fill="#2796c0" stroke="#103f50" stroke-opacity="0.45" stroke-width="1.4"/>
<circle cx="493.6" cy="1222.0" r="10.7" fill="#2796c0" stroke="#103f50" stroke-opacity="0.45" stroke-width="1.4"/>
<circle cx="540.0" cy="1222.0" r="10.7" fill="#2796c0" stroke="#103f50" stroke-opacity="0.45" stroke-width="1.4"/>
<circle cx="514.8" cy="1192.0" r="10.7" fill="#2bb850" stroke="#124d21" stroke-opacity="0.45" stroke-width="1.4"/>
<circle cx="506.9" cy="1221.4" r="10.7" fill="#2796c0" stroke="#103f50" stroke-opacity="0.45" stroke-width="1.4"/>
<circle cx="604.8" cy="1192.7" r="10.7" fill="#2796c0" stroke="#103f50" stroke-opacity="0.45" stroke-width="1.4"/>
<circle cx="636.9" cy="1192.7" r="10.7" fill="#2796c0" stroke="#103f50" stroke-opacity="0.45" stroke-width="1.4"/>
<circle cx="645.6" cy="1192.9" r="10.7" fill="#2bb0aa" stroke="#124947" stroke-opacity="0.45" stroke-width="1.4"/>
<circle cx="628.5" cy="1193.6" r="10.7" fill="#2796c0" stroke="#103f50" stroke-opacity="0.45" stroke-width="1.4"/>
<circle cx="524.3" cy="1220.1" r="10.7" fill="#2b72ba" stroke="#122f4e" stroke-opacity="0.45" stroke-width="1.4"/>
<circle cx="466.8" cy="1220.0" r="10.7" fill="#2796c0" stroke="#103f50" stroke-opacity="0.45" stroke-width="1.4"/>
<circle cx="685.8" cy="1194.2" r="10.7" fill="#2bb0aa" stroke="#124947" stroke-opacity="0.45" stroke-width="1.4"/>
<circle cx="556.8" cy="1194.3" r="10.7" fill="#2796c0" stroke="#103f50" stroke-opacity="0.45" stroke-width="1.4"/>
<circle cx="548.0" cy="1219.6" r="10.7" fill="#2b72ba" stroke="#122f4e" stroke-opacity="0.45" stroke-width="1.4"/>
<circle cx="877.9" cy="1194.6" r="10.7" fill="#2796c0" stroke="#103f50" stroke-opacity="0.45" stroke-width="1.4"/>
<circle cx="572.3" cy="1194.7" r="10.7" fill="#2bb0aa" stroke="#124947" stroke-opacity="0.45" stroke-width="1.4"/>
<circle cx="708.8" cy="1194.7" r="10.7" fill="#2bb0aa" stroke="#124947" stroke-opacity="0.45" stroke-width="1.4"/>
<circle cx="666.3" cy="1194.8" r="10.7" fill="#2796c0" stroke="#103f50" stroke-opacity="0.45" stroke-width="1.4"/>
<circle cx="498.5" cy="1219.2" r="10.7" fill="#2b72ba" stroke="#122f4e" stroke-opacity="0.45" stroke-width="1.4"/>
<circle cx="565.2" cy="1194.8" r="10.7" fill="#2bb0aa" stroke="#124947" stroke-opacity="0.45" stroke-width="1.4"/>
<circle cx="765.9" cy="1194.8" r="10.7" fill="#2796c0" stroke="#103f50" stroke-opacity="0.45" stroke-width="1.4"/>
<circle cx="538.7" cy="1195.0" r="10.7" fill="#2bb0aa" stroke="#124947" stroke-opacity="0.45" stroke-width="1.4"/>
<circle cx="731.0" cy="1195.1" r="10.7" fill="#2796c0" stroke="#103f50" stroke-opacity="0.45" stroke-width="1.4"/>
<circle cx="476.0" cy="1218.9" r="10.7" fill="#2b72ba" stroke="#122f4e" stroke-opacity="0.45" stroke-width="1.4"/>
<circle cx="722.8" cy="1195.2" r="10.7" fill="#2bb0aa" stroke="#124947" stroke-opacity="0.45" stroke-width="1.4"/>
<circle cx="653.5" cy="1195.3" r="10.7" fill="#2bb0aa" stroke="#124947" stroke-opacity="0.45" stroke-width="1.4"/>
<circle cx="523.0" cy="1195.3" r="10.7" fill="#2796c0" stroke="#103f50" stroke-opacity="0.45" stroke-width="1.4"/>
<circle cx="501.1" cy="1195.3" r="10.7" fill="#2bb850" stroke="#124d21" stroke-opacity="0.45" stroke-width="1.4"/>
<circle cx="691.2" cy="1195.4" r="10.7" fill="#2bb0aa" stroke="#124947" stroke-opacity="0.45" stroke-width="1.4"/>
<circle cx="450.4" cy="1218.6" r="10.7" fill="#2bb0aa" stroke="#124947" stroke-opacity="0.45" stroke-width="1.4"/>
<circle cx="555.3" cy="1218.4" r="10.7" fill="#2796c0" stroke="#103f50" stroke-opacity="0.45" stroke-width="1.4"/>
<circle cx="757.3" cy="1195.8" r="10.7" fill="#2796c0" stroke="#103f50" stroke-opacity="0.45" stroke-width="1.4"/>
<circle cx="835.5" cy="1195.8" r="10.7" fill="#2bb0aa" stroke="#124947" stroke-opacity="0.45" stroke-width="1.4"/>
<circle cx="658.9" cy="1195.9" r="10.7" fill="#2bb0aa" stroke="#124947" stroke-opacity="0.45" stroke-width="1.4"/>
<circle cx="845.2" cy="1196.0" r="10.7" fill="#2bb0aa" stroke="#124947" stroke-opacity="0.45" stroke-width="1.4"/>
<circle cx="700.1" cy="1196.0" r="10.7" fill="#2bb0aa" stroke="#124947" stroke-opacity="0.45" stroke-width="1.4"/>
<circle cx="772.2" cy="1196.0" r="10.7" fill="#2bb0aa" stroke="#124947" stroke-opacity="0.45" stroke-width="1.4"/>
<circle cx="813.1" cy="1196.1" r="10.7" fill="#2bb0aa" stroke="#124947" stroke-opacity="0.45" stroke-width="1.4"/>
<circle cx="675.3" cy="1196.1" r="10.7" fill="#2bb0aa" stroke="#124947" stroke-opacity="0.45" stroke-width="1.4"/>
<circle cx="740.6" cy="1196.1" r="10.7" fill="#2bb0aa" stroke="#124947" stroke-opacity="0.45" stroke-width="1.4"/>
<circle cx="852.4" cy="1196.2" r="10.7" fill="#2796c0" stroke="#103f50" stroke-opacity="0.45" stroke-width="1.4"/>
<circle cx="435.8" cy="1217.8" r="10.7" fill="#2bb0aa" stroke="#124947" stroke-opacity="0.45" stroke-width="1.4"/>
<circle cx="540.5" cy="1217.7" r="10.7" fill="#2796c0" stroke="#103f50" stroke-opacity="0.45" stroke-width="1.4"/>
<circle cx="578.3" cy="1196.4" r="10.7" fill="#2796c0" stroke="#103f50" stroke-opacity="0.45" stroke-width="1.4"/>
<circle cx="869.0" cy="1196.6" r="10.7" fill="#2796c0" stroke="#103f50" stroke-opacity="0.45" stroke-width="1.4"/>
<circle cx="461.9" cy="1217.4" r="10.7" fill="#2796c0" stroke="#103f50" stroke-opacity="0.45" stroke-width="1.4"/>
<circle cx="797.6" cy="1196.9" r="10.7" fill="#2bb0aa" stroke="#124947" stroke-opacity="0.45" stroke-width="1.4"/>
<circle cx="788.8" cy="1197.0" r="10.7" fill="#2bb0aa" stroke="#124947" stroke-opacity="0.45" stroke-width="1.4"/>
<circle cx="717.3" cy="1197.2" r="10.7" fill="#2796c0" stroke="#103f50" stroke-opacity="0.45" stroke-width="1.4"/>
<circle cx="747.3" cy="1197.3" r="10.7" fill="#2796c0" stroke="#103f50" stroke-opacity="0.45" stroke-width="1.4"/>
<circle cx="549.9" cy="1216.7" r="10.7" fill="#2b72ba" stroke="#122f4e" stroke-opacity="0.45" stroke-width="1.4"/>
<circle cx="803.0" cy="1197.3" r="10.7" fill="#2796c0" stroke="#103f50" stroke-opacity="0.45" stroke-width="1.4"/>
<circle cx="778.2" cy="1197.4" r="10.7" fill="#2796c0" stroke="#103f50" stroke-opacity="0.45" stroke-width="1.4"/>
<circle cx="587.2" cy="1197.5" r="10.7" fill="#2bb0aa" stroke="#124947" stroke-opacity="0.45" stroke-width="1.4"/>
<circle cx="828.8" cy="1197.6" r="10.7" fill="#2796c0" stroke="#103f50" stroke-opacity="0.45" stroke-width="1.4"/>
<circle cx="493.4" cy="1197.8" r="10.7" fill="#2ab48a" stroke="#114b39" stroke-opacity="0.45" stroke-width="1.4"/>
<circle cx="818.9" cy="1197.9" r="10.7" fill="#2796c0" stroke="#103f50" stroke-opacity="0.45" stroke-width="1.4"/>
<circle cx="564.0" cy="1216.0" r="10.7" fill="#2b72ba" stroke="#122f4e" stroke-opacity="0.45" stroke-width="1.4"/>
<circle cx="572.0" cy="1216.0" r="10.7" fill="#2b72ba" stroke="#122f4e" stroke-opacity="0.45" stroke-width="1.4"/>
<circle cx="580.0" cy="1216.0" r="10.7" fill="#2b72ba" stroke="#122f4e" stroke-opacity="0.45" stroke-width="1.4"/>
<circle cx="612.0" cy="1215.8" r="10.7" fill="#2b72ba" stroke="#122f4e" stroke-opacity="0.45" stroke-width="1.4"/>
<circle cx="603.1" cy="1198.3" r="10.7" fill="#2b72ba" stroke="#122f4e" stroke-opacity="0.45" stroke-width="1.4"/>
<circle cx="859.1" cy="1198.4" r="10.7" fill="#2b72ba" stroke="#122f4e" stroke-opacity="0.45" stroke-width="1.4"/>
<circle cx="514.9" cy="1215.6" r="10.7" fill="#2796c0" stroke="#103f50" stroke-opacity="0.45" stroke-width="1.4"/>
<circle cx="620.0" cy="1215.6" r="10.7" fill="#2b72ba" stroke="#122f4e" stroke-opacity="0.45" stroke-width="1.4"/>
<circle cx="610.3" cy="1198.5" r="10.7" fill="#2b72ba" stroke="#122f4e" stroke-opacity="0.45" stroke-width="1.4"/>
<circle cx="483.3" cy="1215.5" r="10.7" fill="#2b72ba" stroke="#122f4e" stroke-opacity="0.45" stroke-width="1.4"/>
<circle cx="628.0" cy="1215.4" r="10.7" fill="#2b72ba" stroke="#122f4e" stroke-opacity="0.45" stroke-width="1.4"/>
<circle cx="636.0" cy="1215.3" r="10.7" fill="#2b72ba" stroke="#122f4e" stroke-opacity="0.45" stroke-width="1.4"/>
<circle cx="506.8" cy="1198.8" r="10.7" fill="#2bb850" stroke="#124d21" stroke-opacity="0.45" stroke-width="1.4"/>
<circle cx="866.3" cy="1215.2" r="10.7" fill="#2b72ba" stroke="#122f4e" stroke-opacity="0.45" stroke-width="1.4"/>
<circle cx="644.0" cy="1215.1" r="10.7" fill="#2b72ba" stroke="#122f4e" stroke-opacity="0.45" stroke-width="1.4"/>
<circle cx="602.9" cy="1215.0" r="10.7" fill="#2b72ba" stroke="#122f4e" stroke-opacity="0.45" stroke-width="1.4"/>
<circle cx="652.0" cy="1215.0" r="10.7" fill="#2b72ba" stroke="#122f4e" stroke-opacity="0.45" stroke-width="1.4"/>
<circle cx="619.8" cy="1199.1" r="10.7" fill="#2b72ba" stroke="#122f4e" stroke-opacity="0.45" stroke-width="1.4"/>
<circle cx="548.3" cy="1199.1" r="10.7" fill="#2b72ba" stroke="#122f4e" stroke-opacity="0.45" stroke-width="1.4"/>
<circle cx="660.0" cy="1214.8" r="10.7" fill="#2b72ba" stroke="#122f4e" stroke-opacity="0.45" stroke-width="1.4"/>
<circle cx="444.0" cy="1214.7" r="10.7" fill="#2bb0aa" stroke="#124947" stroke-opacity="0.45" stroke-width="1.4"/>
<circle cx="668.0" cy="1214.6" r="10.7" fill="#2796c0" stroke="#103f50" stroke-opacity="0.45" stroke-width="1.4"/>
<circle cx="530.8" cy="1199.4" r="10.7" fill="#2b72ba" stroke="#122f4e" stroke-opacity="0.45" stroke-width="1.4"/>
<circle cx="842.2" cy="1214.5" r="10.7" fill="#2b72ba" stroke="#122f4e" stroke-opacity="0.45" stroke-width="1.4"/>
<circle cx="676.0" cy="1214.5" r="10.7" fill="#2796c0" stroke="#103f50" stroke-opacity="0.45" stroke-width="1.4"/>
<circle cx="597.2" cy="1199.6" r="10.7" fill="#2796c0" stroke="#103f50" stroke-opacity="0.45" stroke-width="1.4"/>
<circle cx="506.5" cy="1213.9" r="10.7" fill="#2b72ba" stroke="#122f4e" stroke-opacity="0.45" stroke-width="1.4"/>
<circle cx="596.3" cy="1213.8" r="10.7" fill="#2b72ba" stroke="#122f4e" stroke-opacity="0.45" stroke-width="1.4"/>
<circle cx="852.1" cy="1213.8" r="10.7" fill="#2796c0" stroke="#103f50" stroke-opacity="0.45" stroke-width="1.4"/>
<circle cx="828.5" cy="1213.5" r="10.7" fill="#2b72ba" stroke="#122f4e" stroke-opacity="0.45" stroke-width="1.4"/>
<circle cx="589.6" cy="1213.5" r="10.7" fill="#2b72ba" stroke="#122f4e" stroke-opacity="0.45" stroke-width="1.4"/>
<circle cx="709.8" cy="1213.3" r="10.7" fill="#2b72ba" stroke="#122f4e" stroke-opacity="0.45" stroke-width="1.4"/>
<circle cx="490.0" cy="1213.3" r="10.7" fill="#2bb0aa" stroke="#124947" stroke-opacity="0.45" stroke-width="1.4"/>
<circle cx="517.4" cy="1200.8" r="10.7" fill="#2bb0aa" stroke="#124947" stroke-opacity="0.45" stroke-width="1.4"/>
<circle cx="836.2" cy="1213.1" r="10.7" fill="#2b72ba" stroke="#122f4e" stroke-opacity="0.45" stroke-width="1.4"/>
<circle cx="531.7" cy="1212.9" r="10.7" fill="#2b72ba" stroke="#122f4e" stroke-opacity="0.45" stroke-width="1.4"/>
<circle cx="690.8" cy="1212.8" r="10.7" fill="#2b72ba" stroke="#122f4e" stroke-opacity="0.45" stroke-width="1.4"/>
<circle cx="820.6" cy="1212.8" r="10.7" fill="#2b72ba" stroke="#122f4e" stroke-opacity="0.45" stroke-width="1.4"/>
<circle cx="501.9" cy="1212.8" r="10.7" fill="#2796c0" stroke="#103f50" stroke-opacity="0.45" stroke-width="1.4"/>
<circle cx="635.1" cy="1201.2" r="10.7" fill="#2b72ba" stroke="#122f4e" stroke-opacity="0.45" stroke-width="1.4"/>
<circle cx="554.1" cy="1201.3" r="10.7" fill="#2b72ba" stroke="#122f4e" stroke-opacity="0.45" stroke-width="1.4"/>
<circle cx="764.0" cy="1212.6" r="10.7" fill="#2b72ba" stroke="#122f4e" stroke-opacity="0.45" stroke-width="1.4"/>
<circle cx="755.6" cy="1212.6" r="10.7" fill="#2b72ba" stroke="#122f4e" stroke-opacity="0.45" stroke-width="1.4"/>
<circle cx="538.3" cy="1201.5" r="10.7" fill="#2b72ba" stroke="#122f4e" stroke-opacity="0.45" stroke-width="1.4"/>
<circle cx="723.4" cy="1212.4" r="10.7" fill="#2b72ba" stroke="#122f4e" stroke-opacity="0.45" stroke-width="1.4"/>
<circle cx="714.8" cy="1212.4" r="10.7" fill="#2b72ba" stroke="#122f4e" stroke-opacity="0.45" stroke-width="1.4"/>
<circle cx="859.0" cy="1212.3" r="10.7" fill="#2b72ba" stroke="#122f4e" stroke-opacity="0.45" stroke-width="1.4"/>
<circle cx="811.4" cy="1212.2" r="10.7" fill="#2b72ba" stroke="#122f4e" stroke-opacity="0.45" stroke-width="1.4"/>
<circle cx="486.0" cy="1201.8" r="10.7" fill="#2ab48a" stroke="#114b39" stroke-opacity="0.45" stroke-width="1.4"/>
<circle cx="683.2" cy="1212.2" r="10.7" fill="#2b72ba" stroke="#122f4e" stroke-opacity="0.45" stroke-width="1.4"/>
<circle cx="452.5" cy="1212.1" r="10.7" fill="#2796c0" stroke="#103f50" stroke-opacity="0.45" stroke-width="1.4"/>
<circle cx="701.9" cy="1212.0" r="10.7" fill="#2796c0" stroke="#103f50" stroke-opacity="0.45" stroke-width="1.4"/>
<circle cx="563.4" cy="1202.1" r="10.7" fill="#2b72ba" stroke="#122f4e" stroke-opacity="0.45" stroke-width="1.4"/>
<circle cx="779.3" cy="1211.9" r="10.7" fill="#2b72ba" stroke="#122f4e" stroke-opacity="0.45" stroke-width="1.4"/>
<circle cx="676.1" cy="1211.9" r="10.7" fill="#2796c0" stroke="#103f50" stroke-opacity="0.45" stroke-width="1.4"/>
<circle cx="674.6" cy="1202.1" r="10.7" fill="#2b72ba" stroke="#122f4e" stroke-opacity="0.45" stroke-width="1.4"/>
<circle cx="805.3" cy="1211.8" r="10.7" fill="#2b72ba" stroke="#122f4e" stroke-opacity="0.45" stroke-width="1.4"/>
<circle cx="731.5" cy="1211.7" r="10.7" fill="#2b72ba" stroke="#122f4e" stroke-opacity="0.45" stroke-width="1.4"/>
<circle cx="789.0" cy="1211.7" r="10.7" fill="#2b72ba" stroke="#122f4e" stroke-opacity="0.45" stroke-width="1.4"/>
<circle cx="796.5" cy="1211.7" r="10.7" fill="#2b72ba" stroke="#122f4e" stroke-opacity="0.45" stroke-width="1.4"/>
<circle cx="653.8" cy="1202.3" r="10.7" fill="#2796c0" stroke="#103f50" stroke-opacity="0.45" stroke-width="1.4"/>
<circle cx="660.1" cy="1211.5" r="10.7" fill="#2796c0" stroke="#103f50" stroke-opacity="0.45" stroke-width="1.4"/>
<circle cx="629.2" cy="1202.5" r="10.7" fill="#2796c0" stroke="#103f50" stroke-opacity="0.45" stroke-width="1.4"/>
<circle cx="468.1" cy="1211.5" r="10.7" fill="#2796c0" stroke="#103f50" stroke-opacity="0.45" stroke-width="1.4"/>
<circle cx="574.0" cy="1211.5" r="10.7" fill="#2b72ba" stroke="#122f4e" stroke-opacity="0.45" stroke-width="1.4"/>
<circle cx="700.4" cy="1202.6" r="10.7" fill="#2b72ba" stroke="#122f4e" stroke-opacity="0.45" stroke-width="1.4"/>
<circle cx="540.2" cy="1211.4" r="10.7" fill="#2b72ba" stroke="#122f4e" stroke-opacity="0.45" stroke-width="1.4"/>
<circle cx="876.9" cy="1211.3" r="10.7" fill="#2b72ba" stroke="#122f4e" stroke-opacity="0.45" stroke-width="1.4"/>
<circle cx="570.3" cy="1202.8" r="10.7" fill="#2b72ba" stroke="#122f4e" stroke-opacity="0.45" stroke-width="1.4"/>
<circle cx="645.7" cy="1202.8" r="10.7" fill="#2796c0" stroke="#103f50" stroke-opacity="0.45" stroke-width="1.4"/>
<circle cx="741.4" cy="1211.2" r="10.7" fill="#2b72ba" stroke="#122f4e" stroke-opacity="0.45" stroke-width="1.4"/>
<circle cx="523.5" cy="1202.9" r="10.7" fill="#2796c0" stroke="#103f50" stroke-opacity="0.45" stroke-width="1.4"/>
<circle cx="757.2" cy="1202.9" r="10.7" fill="#2b72ba" stroke="#122f4e" stroke-opacity="0.45" stroke-width="1.4"/>
<circle cx="770.7" cy="1211.1" r="10.7" fill="#2b72ba" stroke="#122f4e" stroke-opacity="0.45" stroke-width="1.4"/>
<circle cx="772.3" cy="1202.9" r="10.7" fill="#2b72ba" stroke="#122f4e" stroke-opacity="0.45" stroke-width="1.4"/>
<circle cx="525.8" cy="1211.0" r="10.7" fill="#2796c0" stroke="#103f50" stroke-opacity="0.45" stroke-width="1.4"/>
<circle cx="812.9" cy="1203.1" r="10.7" fill="#2b72ba" stroke="#122f4e" stroke-opacity="0.45" stroke-width="1.4"/>
<circle cx="749.6" cy="1210.9" r="10.7" fill="#2796c0" stroke="#103f50" stroke-opacity="0.45" stroke-width="1.4"/>
<circle cx="579.9" cy="1210.9" r="10.7" fill="#2b72ba" stroke="#122f4e" stroke-opacity="0.45" stroke-width="1.4"/>
<circle cx="476.1" cy="1210.8" r="10.7" fill="#2bb0aa" stroke="#124947" stroke-opacity="0.45" stroke-width="1.4"/>
<circle cx="466.6" cy="1203.3" r="10.7" fill="#2bb850" stroke="#124d21" stroke-opacity="0.45" stroke-width="1.4"/>
<circle cx="565.6" cy="1210.6" r="10.7" fill="#2b72ba" stroke="#122f4e" stroke-opacity="0.45" stroke-width="1.4"/>
<circle cx="829.9" cy="1203.4" r="10.7" fill="#2796c0" stroke="#103f50" stroke-opacity="0.45" stroke-width="1.4"/>
<circle cx="475.8" cy="1203.4" r="10.7" fill="#2ab48a" stroke="#114b39" stroke-opacity="0.45" stroke-width="1.4"/>
<circle cx="715.9" cy="1203.5" r="10.7" fill="#2b72ba" stroke="#122f4e" stroke-opacity="0.45" stroke-width="1.4"/>
<circle cx="724.7" cy="1203.5" r="10.7" fill="#2b72ba" stroke="#122f4e" stroke-opacity="0.45" stroke-width="1.4"/>
<circle cx="498.3" cy="1203.5" r="10.7" fill="#2796c0" stroke="#103f50" stroke-opacity="0.45" stroke-width="1.4"/>
<circle cx="682.9" cy="1203.5" r="10.7" fill="#2b72ba" stroke="#122f4e" stroke-opacity="0.45" stroke-width="1.4"/>
<circle cx="668.2" cy="1203.7" r="10.7" fill="#2b72ba" stroke="#122f4e" stroke-opacity="0.45" stroke-width="1.4"/>
<circle cx="708.2" cy="1203.7" r="10.7" fill="#2b72ba" stroke="#122f4e" stroke-opacity="0.45" stroke-width="1.4"/>
<circle cx="732.1" cy="1203.8" r="10.7" fill="#2b72ba" stroke="#122f4e" stroke-opacity="0.45" stroke-width="1.4"/>
<circle cx="786.7" cy="1203.9" r="10.7" fill="#2b72ba" stroke="#122f4e" stroke-opacity="0.45" stroke-width="1.4"/>
<circle cx="578.1" cy="1204.0" r="10.7" fill="#2b72ba" stroke="#122f4e" stroke-opacity="0.45" stroke-width="1.4"/>
<circle cx="642.5" cy="1210.0" r="10.7" fill="#2b72ba" stroke="#122f4e" stroke-opacity="0.45" stroke-width="1.4"/>
<circle cx="586.8" cy="1204.0" r="10.7" fill="#2796c0" stroke="#103f50" stroke-opacity="0.45" stroke-width="1.4"/>
<circle cx="820.7" cy="1204.1" r="10.7" fill="#2796c0" stroke="#103f50" stroke-opacity="0.45" stroke-width="1.4"/>
<circle cx="661.9" cy="1204.1" r="10.7" fill="#2b72ba" stroke="#122f4e" stroke-opacity="0.45" stroke-width="1.4"/>
<circle cx="514.4" cy="1209.8" r="10.7" fill="#2b72ba" stroke="#122f4e" stroke-opacity="0.45" stroke-width="1.4"/>
<circle cx="636.8" cy="1209.8" r="10.7" fill="#2b72ba" stroke="#122f4e" stroke-opacity="0.45" stroke-width="1.4"/>
<circle cx="859.2" cy="1204.3" r="10.7" fill="#2b72ba" stroke="#122f4e" stroke-opacity="0.45" stroke-width="1.4"/>
<circle cx="741.4" cy="1204.3" r="10.7" fill="#2b72ba" stroke="#122f4e" stroke-opacity="0.45" stroke-width="1.4"/>
<circle cx="555.9" cy="1209.6" r="10.7" fill="#2b72ba" stroke="#122f4e" stroke-opacity="0.45" stroke-width="1.4"/>
<circle cx="667.9" cy="1209.5" r="10.7" fill="#2b72ba" stroke="#122f4e" stroke-opacity="0.45" stroke-width="1.4"/>
<circle cx="652.6" cy="1209.5" r="10.7" fill="#2b72ba" stroke="#122f4e" stroke-opacity="0.45" stroke-width="1.4"/>
<circle cx="547.4" cy="1209.4" r="10.7" fill="#2796c0" stroke="#103f50" stroke-opacity="0.45" stroke-width="1.4"/>
<circle cx="876.1" cy="1204.7" r="10.7" fill="#2b72ba" stroke="#122f4e" stroke-opacity="0.45" stroke-width="1.4"/>
<circle cx="764.0" cy="1204.8" r="10.7" fill="#2b72ba" stroke="#122f4e" stroke-opacity="0.45" stroke-width="1.4"/>
<circle cx="779.8" cy="1204.8" r="10.7" fill="#2b72ba" stroke="#122f4e" stroke-opacity="0.45" stroke-width="1.4"/>
<circle cx="693.4" cy="1204.9" r="10.7" fill="#2b72ba" stroke="#122f4e" stroke-opacity="0.45" stroke-width="1.4"/>
<circle cx="805.0" cy="1204.9" r="10.7" fill="#2b72ba" stroke="#122f4e" stroke-opacity="0.45" stroke-width="1.4"/>
<circle cx="796.8" cy="1205.1" r="10.7" fill="#2b72ba" stroke="#122f4e" stroke-opacity="0.45" stroke-width="1.4"/>
<circle cx="485.4" cy="1208.9" r="10.7" fill="#2796c0" stroke="#103f50" stroke-opacity="0.45" stroke-width="1.4"/>
<circle cx="853.8" cy="1205.2" r="10.7" fill="#2b72ba" stroke="#122f4e" stroke-opacity="0.45" stroke-width="1.4"/>
<circle cx="746.9" cy="1205.5" r="10.7" fill="#2b72ba" stroke="#122f4e" stroke-opacity="0.45" stroke-width="1.4"/>
<circle cx="628.7" cy="1208.2" r="10.7" fill="#2b72ba" stroke="#122f4e" stroke-opacity="0.45" stroke-width="1.4"/>
<circle cx="597.5" cy="1206.0" r="10.7" fill="#2b72ba" stroke="#122f4e" stroke-opacity="0.45" stroke-width="1.4"/>
<circle cx="844.4" cy="1206.0" r="10.7" fill="#2b72ba" stroke="#122f4e" stroke-opacity="0.45" stroke-width="1.4"/>
<circle cx="835.0" cy="1206.2" r="10.7" fill="#2b72ba" stroke="#122f4e" stroke-opacity="0.45" stroke-width="1.4"/>
<circle cx="621.3" cy="1207.7" r="10.7" fill="#2b72ba" stroke="#122f4e" stroke-opacity="0.45" stroke-width="1.4"/>
<circle cx="533.5" cy="1206.4" r="10.7" fill="#2796c0" stroke="#103f50" stroke-opacity="0.45" stroke-width="1.4"/>
<circle cx="613.5" cy="1206.5" r="10.7" fill="#2b72ba" stroke="#122f4e" stroke-opacity="0.45" stroke-width="1.4"/>
<circle cx="506.5" cy="1206.6" r="10.7" fill="#2bb0aa" stroke="#124947" stroke-opacity="0.45" stroke-width="1.4"/>
<circle cx="603.8" cy="1206.6" r="10.7" fill="#2b72ba" stroke="#122f4e" stroke-opacity="0.45" stroke-width="1.4"/>
<circle cx="460.8" cy="1206.6" r="10.7" fill="#2bb850" stroke="#124d21" stroke-opacity="0.45" stroke-width="1.4"/>
<circle cx="870.0" cy="1207.3" r="10.7" fill="#2b72ba" stroke="#122f4e" stroke-opacity="0.45" stroke-width="1.4"/>
<circle cx="493.8" cy="1207.2" r="10.7" fill="#2796c0" stroke="#103f50" stroke-opacity="0.45" stroke-width="1.4"/>
<circle cx="748.0" cy="1180.0" r="10.7" fill="#2bb850" fill-opacity="0.95" stroke="#114920" stroke-opacity="0.68" stroke-width="1.4"/>
<circle cx="812.8" cy="1180.6" r="10.7" fill="#2ab48a" fill-opacity="0.95" stroke="#104837" stroke-opacity="0.68" stroke-width="1.4"/>
<circle cx="835.0" cy="1173.6" r="10.7" fill="#2bb850" fill-opacity="0.95" stroke="#114920" stroke-opacity="0.68" stroke-width="1.4"/>
<circle cx="854.8" cy="1177.8" r="10.7" fill="#2ab48a" fill-opacity="0.95" stroke="#104837" stroke-opacity="0.68" stroke-width="1.4"/>
<circle cx="880.0" cy="1180.0" r="10.7" fill="#2796c0" fill-opacity="0.95" stroke="#0f3c4c" stroke-opacity="0.68" stroke-width="1.4"/>
<circle cx="815.6" cy="1191.8" r="10.7" fill="#2bb0aa" fill-opacity="0.95" stroke="#114644" stroke-opacity="0.68" stroke-width="1.4"/>
<circle cx="854.8" cy="1197.4" r="10.7" fill="#2bb850" fill-opacity="0.95" stroke="#114920" stroke-opacity="0.68" stroke-width="1.4"/>
<circle cx="434.0" cy="1218.5" r="10.7" fill="#2bb850" fill-opacity="0.95" stroke="#114920" stroke-opacity="0.68" stroke-width="1.4"/>
<circle cx="441.5" cy="1214.5" r="10.7" fill="#2bb850" fill-opacity="0.95" stroke="#114920" stroke-opacity="0.68" stroke-width="1.4"/>
<circle cx="434.7" cy="1231.0" r="10.7" fill="#2796c0" fill-opacity="0.95" stroke="#0f3c4c" stroke-opacity="0.68" stroke-width="1.4"/>
<circle cx="452.0" cy="1225.7" r="10.7" fill="#2bb0aa" fill-opacity="0.95" stroke="#114644" stroke-opacity="0.68" stroke-width="1.4"/>
<circle cx="469.2" cy="1202.5" r="10.7" fill="#2bb850" fill-opacity="0.95" stroke="#114920" stroke-opacity="0.68" stroke-width="1.4"/>
<circle cx="467.0" cy="1219.0" r="10.7" fill="#2b72ba" fill-opacity="0.95" stroke="#112d4a" stroke-opacity="0.68" stroke-width="1.4"/>
<circle cx="485.0" cy="1202.5" r="10.7" fill="#2ab48a" fill-opacity="0.95" stroke="#104837" stroke-opacity="0.68" stroke-width="1.4"/>
<circle cx="485.7" cy="1231.7" r="10.7" fill="#2bb0aa" fill-opacity="0.95" stroke="#114644" stroke-opacity="0.68" stroke-width="1.4"/>
<circle cx="495.5" cy="1243.0" r="10.7" fill="#2bb0aa" fill-opacity="0.95" stroke="#114644" stroke-opacity="0.68" stroke-width="1.4"/>
<circle cx="503.0" cy="1216.0" r="10.7" fill="#2bb0aa" fill-opacity="0.95" stroke="#114644" stroke-opacity="0.68" stroke-width="1.4"/>
<circle cx="503.7" cy="1195.7" r="10.7" fill="#2bb0aa" fill-opacity="0.95" stroke="#114644" stroke-opacity="0.68" stroke-width="1.4"/>
<circle cx="513.4" cy="1229.5" r="10.7" fill="#2b72ba" fill-opacity="0.95" stroke="#112d4a" stroke-opacity="0.68" stroke-width="1.4"/>
<circle cx="516.4" cy="1198.7" r="10.7" fill="#2796c0" fill-opacity="0.95" stroke="#0f3c4c" stroke-opacity="0.68" stroke-width="1.4"/>
<circle cx="530.0" cy="1195.0" r="10.7" fill="#2b72ba" fill-opacity="0.95" stroke="#112d4a" stroke-opacity="0.68" stroke-width="1.4"/>
<circle cx="531.4" cy="1211.5" r="10.7" fill="#2b72ba" fill-opacity="0.95" stroke="#112d4a" stroke-opacity="0.68" stroke-width="1.4"/>
<circle cx="552.4" cy="1195.0" r="10.7" fill="#2b72ba" fill-opacity="0.95" stroke="#112d4a" stroke-opacity="0.68" stroke-width="1.4"/>
<circle cx="556.0" cy="1217.5" r="10.7" fill="#2b72ba" fill-opacity="0.95" stroke="#112d4a" stroke-opacity="0.68" stroke-width="1.4"/>
<circle cx="582.0" cy="1206.0" r="10.7" fill="#2b72ba" fill-opacity="0.95" stroke="#112d4a" stroke-opacity="0.68" stroke-width="1.4"/>
<circle cx="609.0" cy="1200.0" r="10.7" fill="#2b72ba" fill-opacity="0.95" stroke="#112d4a" stroke-opacity="0.68" stroke-width="1.4"/>
<circle cx="630.0" cy="1209.0" r="10.7" fill="#2b72ba" fill-opacity="0.95" stroke="#112d4a" stroke-opacity="0.68" stroke-width="1.4"/>
<circle cx="651.0" cy="1209.0" r="10.7" fill="#2b72ba" fill-opacity="0.95" stroke="#112d4a" stroke-opacity="0.68" stroke-width="1.4"/>
<circle cx="672.0" cy="1206.0" r="10.7" fill="#2b72ba" fill-opacity="0.95" stroke="#112d4a" stroke-opacity="0.68" stroke-width="1.4"/>
<circle cx="690.0" cy="1209.0" r="10.7" fill="#2b72ba" fill-opacity="0.95" stroke="#112d4a" stroke-opacity="0.68" stroke-width="1.4"/>
<circle cx="714.0" cy="1206.0" r="10.7" fill="#2b72ba" fill-opacity="0.95" stroke="#112d4a" stroke-opacity="0.68" stroke-width="1.4"/>
<circle cx="738.0" cy="1212.0" r="10.7" fill="#2b72ba" fill-opacity="0.95" stroke="#112d4a" stroke-opacity="0.68" stroke-width="1.4"/>
<circle cx="749.8" cy="1211.4" r="10.7" fill="#2b72ba" fill-opacity="0.95" stroke="#112d4a" stroke-opacity="0.68" stroke-width="1.4"/>
<circle cx="768.0" cy="1208.6" r="10.7" fill="#2b72ba" fill-opacity="0.95" stroke="#112d4a" stroke-opacity="0.68" stroke-width="1.4"/>
<circle cx="786.2" cy="1214.0" r="10.7" fill="#2b72ba" fill-opacity="0.95" stroke="#112d4a" stroke-opacity="0.68" stroke-width="1.4"/>
<circle cx="798.8" cy="1208.6" r="10.7" fill="#2b72ba" fill-opacity="0.95" stroke="#112d4a" stroke-opacity="0.68" stroke-width="1.4"/>
<circle cx="824.0" cy="1219.8" r="10.7" fill="#2b72ba" fill-opacity="0.95" stroke="#112d4a" stroke-opacity="0.68" stroke-width="1.4"/>
<circle cx="838.0" cy="1204.4" r="10.7" fill="#2796c0" fill-opacity="0.95" stroke="#0f3c4c" stroke-opacity="0.68" stroke-width="1.4"/>
<circle cx="857.5" cy="1212.8" r="10.7" fill="#2b72ba" fill-opacity="0.95" stroke="#112d4a" stroke-opacity="0.68" stroke-width="1.4"/>
<circle cx="611.0" cy="1239.5" r="10.7" fill="#3cbf30" fill-opacity="0.95" stroke="#184c13" stroke-opacity="0.68" stroke-width="1.4"/>
<circle cx="840.8" cy="1222.6" r="10.7" fill="#2bb0aa" fill-opacity="0.95" stroke="#114644" stroke-opacity="0.68" stroke-width="1.4"/>
<circle cx="708.0" cy="1224.0" r="10.7" fill="#2b72ba" fill-opacity="0.95" stroke="#112d4a" stroke-opacity="0.68" stroke-width="1.4"/>
<circle cx="780.0" cy="1221.0" r="10.7" fill="#2796c0" fill-opacity="0.95" stroke="#0f3c4c" stroke-opacity="0.68" stroke-width="1.4"/>
<circle cx="880.0" cy="1207.0" r="10.7" fill="#2b72ba" fill-opacity="0.95" stroke="#112d4a" stroke-opacity="0.68" stroke-width="1.4"/>
<circle cx="887.0" cy="1231.0" r="10.7" fill="#2796c0" fill-opacity="0.95" stroke="#0f3c4c" stroke-opacity="0.68" stroke-width="1.4"/>
<circle cx="905.0" cy="1203.0" r="10.7" fill="#2796c0" fill-opacity="0.95" stroke="#0f3c4c" stroke-opacity="0.68" stroke-width="1.4"/>
<circle cx="903.7" cy="1217.0" r="10.7" fill="#2b72ba" fill-opacity="0.95" stroke="#112d4a" stroke-opacity="0.68" stroke-width="1.4"/>
<circle cx="930.3" cy="1198.8" r="10.7" fill="#2bb0aa" fill-opacity="0.95" stroke="#114644" stroke-opacity="0.68" stroke-width="1.4"/>
<circle cx="930.3" cy="1210.0" r="10.7" fill="#2796c0" fill-opacity="0.95" stroke="#0f3c4c" stroke-opacity="0.68" stroke-width="1.4"/>
<circle cx="933.0" cy="1224.0" r="10.7" fill="#2796c0" fill-opacity="0.95" stroke="#0f3c4c" stroke-opacity="0.68" stroke-width="1.4"/>
<circle cx="948.5" cy="1215.6" r="10.7" fill="#2bb850" fill-opacity="0.95" stroke="#114920" stroke-opacity="0.68" stroke-width="1.4"/>
<circle cx="965.3" cy="1211.4" r="10.7" fill="#2796c0" fill-opacity="0.95" stroke="#0f3c4c" stroke-opacity="0.68" stroke-width="1.4"/>
<circle cx="969.5" cy="1215.6" r="10.7" fill="#2b72ba" fill-opacity="0.95" stroke="#112d4a" stroke-opacity="0.68" stroke-width="1.4"/>
<circle cx="962.5" cy="1226.8" r="10.7" fill="#2796c0" fill-opacity="0.95" stroke="#0f3c4c" stroke-opacity="0.68" stroke-width="1.4"/>
<circle cx="989.0" cy="1226.8" r="10.7" fill="#2b72ba" fill-opacity="0.95" stroke="#112d4a" stroke-opacity="0.68" stroke-width="1.4"/>
<circle cx="983.5" cy="1243.6" r="10.7" fill="#3cbf30" fill-opacity="0.95" stroke="#184c13" stroke-opacity="0.68" stroke-width="1.4"/>
<circle cx="565.3" cy="854.9" r="10.7" fill="#62c030" fill-opacity="0.95" stroke="#274c13" stroke-opacity="0.68" stroke-width="1.4"/>
<circle cx="631.4" cy="970.5" r="10.7" fill="#62c030" fill-opacity="0.95" stroke="#274c13" stroke-opacity="0.68" stroke-width="1.4"/>
<circle cx="556.0" cy="1036.6" r="10.7" fill="#3cbf30" fill-opacity="0.95" stroke="#184c13" stroke-opacity="0.68" stroke-width="1.4"/>
<circle cx="574.8" cy="1064.9" r="10.7" fill="#96c632" fill-opacity="0.95" stroke="#3c4f14" stroke-opacity="0.68" stroke-width="1.4"/>
<circle cx="537.4" cy="1076.0" r="10.7" fill="#3cbf30" fill-opacity="0.95" stroke="#184c13" stroke-opacity="0.68" stroke-width="1.4"/>
<circle cx="693.1" cy="1070.5" r="10.7" fill="#96c632" fill-opacity="0.95" stroke="#3c4f14" stroke-opacity="0.68" stroke-width="1.4"/>
<circle cx="449.4" cy="1195.0" r="10.7" fill="#2ab48a" fill-opacity="0.95" stroke="#104837" stroke-opacity="0.68" stroke-width="1.4"/>
<circle cx="317.7" cy="1247.2" r="10.7" fill="#2bb0aa" fill-opacity="0.95" stroke="#114644" stroke-opacity="0.68" stroke-width="1.4"/>
<circle cx="371.0" cy="1228.3" r="10.7" fill="#2bb850" fill-opacity="0.95" stroke="#114920" stroke-opacity="0.68" stroke-width="1.4"/>
<circle cx="376.4" cy="1234.3" r="10.7" fill="#2bb850" fill-opacity="0.95" stroke="#114920" stroke-opacity="0.68" stroke-width="1.4"/>
<circle cx="1041.8" cy="1203.2" r="10.7" fill="#2ab48a" fill-opacity="0.95" stroke="#104837" stroke-opacity="0.68" stroke-width="1.4"/>
<circle cx="1063.8" cy="1206.2" r="10.7" fill="#2bb0aa" fill-opacity="0.95" stroke="#114644" stroke-opacity="0.68" stroke-width="1.4"/>
<circle cx="1034.2" cy="1220.3" r="10.7" fill="#2796c0" fill-opacity="0.95" stroke="#0f3c4c" stroke-opacity="0.68" stroke-width="1.4"/>
<circle cx="1003.0" cy="1232.8" r="10.7" fill="#2796c0" fill-opacity="0.95" stroke="#0f3c4c" stroke-opacity="0.68" stroke-width="1.4"/>
<circle cx="1087.4" cy="1222.2" r="10.7" fill="#2796c0" fill-opacity="0.95" stroke="#0f3c4c" stroke-opacity="0.68" stroke-width="1.4"/>
<circle cx="1099.5" cy="1229.0" r="10.7" fill="#2796c0" fill-opacity="0.95" stroke="#0f3c4c" stroke-opacity="0.68" stroke-width="1.4"/>
<circle cx="1153.0" cy="1220.3" r="10.7" fill="#2796c0" fill-opacity="0.95" stroke="#0f3c4c" stroke-opacity="0.68" stroke-width="1.4"/>
<circle cx="1172.8" cy="1231.7" r="10.7" fill="#2bb0aa" fill-opacity="0.95" stroke="#114644" stroke-opacity="0.68" stroke-width="1.4"/>
<circle cx="1263.2" cy="1217.2" r="10.7" fill="#2796c0" fill-opacity="0.95" stroke="#0f3c4c" stroke-opacity="0.68" stroke-width="1.4"/>
<circle cx="1292.4" cy="1226.0" r="10.7" fill="#3cbf30" fill-opacity="0.95" stroke="#184c13" stroke-opacity="0.68" stroke-width="1.4"/>
<circle cx="1305.7" cy="1223.3" r="10.7" fill="#2796c0" fill-opacity="0.95" stroke="#0f3c4c" stroke-opacity="0.68" stroke-width="1.4"/>
<circle cx="1358.8" cy="1252.0" r="10.7" fill="#2796c0" fill-opacity="0.95" stroke="#0f3c4c" stroke-opacity="0.68" stroke-width="1.4"/>
<circle cx="1426.5" cy="1230.2" r="10.7" fill="#2b72ba" fill-opacity="0.95" stroke="#112d4a" stroke-opacity="0.68" stroke-width="1.4"/>
<circle cx="1548.8" cy="1236.2" r="10.7" fill="#2796c0" fill-opacity="0.95" stroke="#0f3c4c" stroke-opacity="0.68" stroke-width="1.4"/>
<circle cx="545.0" cy="1118.3" r="10.7" fill="#62c030" fill-opacity="0.95" stroke="#274c13" stroke-opacity="0.68" stroke-width="1.4"/>
<circle cx="557.6" cy="1127.8" r="10.7" fill="#62c030" fill-opacity="0.95" stroke="#274c13" stroke-opacity="0.68" stroke-width="1.4"/>
<circle cx="574.7" cy="1127.8" r="10.7" fill="#3cbf30" fill-opacity="0.95" stroke="#184c13" stroke-opacity="0.68" stroke-width="1.4"/>
<circle cx="604.3" cy="1129.6" r="10.7" fill="#96c632" fill-opacity="0.95" stroke="#3c4f14" stroke-opacity="0.68" stroke-width="1.4"/>
<circle cx="628.6" cy="1117.9" r="10.7" fill="#96c632" fill-opacity="0.95" stroke="#3c4f14" stroke-opacity="0.68" stroke-width="1.4"/>
<circle cx="652.0" cy="1108.9" r="10.7" fill="#96c632" fill-opacity="0.95" stroke="#3c4f14" stroke-opacity="0.68" stroke-width="1.4"/>
<circle cx="593.6" cy="1139.0" r="10.7" fill="#2ab48a" fill-opacity="0.95" stroke="#104837" stroke-opacity="0.68" stroke-width="1.4"/>
<circle cx="617.0" cy="1141.3" r="10.7" fill="#96c632" fill-opacity="0.95" stroke="#3c4f14" stroke-opacity="0.68" stroke-width="1.4"/>
<circle cx="636.7" cy="1134.0" r="10.7" fill="#62c030" fill-opacity="0.95" stroke="#274c13" stroke-opacity="0.68" stroke-width="1.4"/>
<circle cx="656.5" cy="1131.4" r="10.7" fill="#62c030" fill-opacity="0.95" stroke="#274c13" stroke-opacity="0.68" stroke-width="1.4"/>
<circle cx="653.8" cy="1145.8" r="10.7" fill="#62c030" fill-opacity="0.95" stroke="#274c13" stroke-opacity="0.68" stroke-width="1.4"/>
<circle cx="635.8" cy="1153.0" r="10.7" fill="#62c030" fill-opacity="0.95" stroke="#274c13" stroke-opacity="0.68" stroke-width="1.4"/>
<circle cx="538.7" cy="1149.4" r="10.7" fill="#62c030" fill-opacity="0.95" stroke="#274c13" stroke-opacity="0.68" stroke-width="1.4"/>
<circle cx="554.0" cy="1144.0" r="10.7" fill="#62c030" fill-opacity="0.95" stroke="#274c13" stroke-opacity="0.68" stroke-width="1.4"/>
<circle cx="521.6" cy="1158.4" r="10.7" fill="#62c030" fill-opacity="0.95" stroke="#274c13" stroke-opacity="0.68" stroke-width="1.4"/>
<circle cx="513.5" cy="1166.5" r="10.7" fill="#3cbf30" fill-opacity="0.95" stroke="#184c13" stroke-opacity="0.68" stroke-width="1.4"/>
<circle cx="603.4" cy="1153.0" r="10.7" fill="#3cbf30" fill-opacity="0.95" stroke="#184c13" stroke-opacity="0.68" stroke-width="1.4"/>
<circle cx="586.4" cy="1158.4" r="10.7" fill="#3cbf30" fill-opacity="0.95" stroke="#184c13" stroke-opacity="0.68" stroke-width="1.4"/>
<circle cx="615.1" cy="1161.0" r="10.7" fill="#96c632" fill-opacity="0.95" stroke="#3c4f14" stroke-opacity="0.68" stroke-width="1.4"/>
<circle cx="645.7" cy="1162.9" r="10.7" fill="#96c632" fill-opacity="0.95" stroke="#3c4f14" stroke-opacity="0.68" stroke-width="1.4"/>
<circle cx="672.7" cy="1154.8" r="10.7" fill="#62c030" fill-opacity="0.95" stroke="#274c13" stroke-opacity="0.68" stroke-width="1.4"/>
<circle cx="669.1" cy="1170.0" r="10.7" fill="#2ab48a" fill-opacity="0.95" stroke="#104837" stroke-opacity="0.68" stroke-width="1.4"/>
<circle cx="645.7" cy="1178.2" r="10.7" fill="#2ab48a" fill-opacity="0.95" stroke="#104837" stroke-opacity="0.68" stroke-width="1.4"/>
<circle cx="599.0" cy="1169.2" r="10.7" fill="#2bb850" fill-opacity="0.95" stroke="#114920" stroke-opacity="0.68" stroke-width="1.4"/>
<circle cx="521.6" cy="1180.0" r="10.7" fill="#2bb0aa" fill-opacity="0.95" stroke="#114644" stroke-opacity="0.68" stroke-width="1.4"/>
<circle cx="590.0" cy="1184.5" r="10.7" fill="#2ab48a" fill-opacity="0.95" stroke="#104837" stroke-opacity="0.68" stroke-width="1.4"/>
<circle cx="612.4" cy="1175.5" r="10.7" fill="#2bb850" fill-opacity="0.95" stroke="#114920" stroke-opacity="0.68" stroke-width="1.4"/>
<circle cx="710.0" cy="1122.0" r="10.7" fill="#62c030" fill-opacity="0.95" stroke="#274c13" stroke-opacity="0.68" stroke-width="1.4"/>
<circle cx="691.2" cy="1145.6" r="10.7" fill="#96c632" fill-opacity="0.95" stroke="#3c4f14" stroke-opacity="0.68" stroke-width="1.4"/>
<circle cx="676.8" cy="1156.0" r="10.7" fill="#96c632" fill-opacity="0.95" stroke="#3c4f14" stroke-opacity="0.68" stroke-width="1.4"/>
<circle cx="704.8" cy="1160.8" r="10.7" fill="#2ab48a" fill-opacity="0.95" stroke="#104837" stroke-opacity="0.68" stroke-width="1.4"/>
<circle cx="732.0" cy="1159.2" r="10.7" fill="#62c030" fill-opacity="0.95" stroke="#274c13" stroke-opacity="0.68" stroke-width="1.4"/>
<circle cx="641.6" cy="1136.0" r="10.7" fill="#62c030" fill-opacity="0.95" stroke="#274c13" stroke-opacity="0.68" stroke-width="1.4"/>
<circle cx="688.0" cy="1184.0" r="10.7" fill="#2ab48a" fill-opacity="0.95" stroke="#104837" stroke-opacity="0.68" stroke-width="1.4"/>
<circle cx="708.0" cy="1186.4" r="10.7" fill="#2bb0aa" fill-opacity="0.95" stroke="#114644" stroke-opacity="0.68" stroke-width="1.4"/>
<circle cx="728.0" cy="1184.0" r="10.7" fill="#2bb0aa" fill-opacity="0.95" stroke="#114644" stroke-opacity="0.68" stroke-width="1.4"/>
<circle cx="752.0" cy="1177.6" r="10.7" fill="#2bb850" fill-opacity="0.95" stroke="#114920" stroke-opacity="0.68" stroke-width="1.4"/>
<circle cx="774.4" cy="1175.2" r="10.7" fill="#2ab48a" fill-opacity="0.95" stroke="#104837" stroke-opacity="0.68" stroke-width="1.4"/>
<circle cx="792.0" cy="1176.0" r="10.7" fill="#2bb850" fill-opacity="0.95" stroke="#114920" stroke-opacity="0.68" stroke-width="1.4"/>
<circle cx="748.0" cy="1189.6" r="10.7" fill="#2bb850" fill-opacity="0.95" stroke="#114920" stroke-opacity="0.68" stroke-width="1.4"/>
<circle cx="768.0" cy="1188.0" r="10.7" fill="#2ab48a" fill-opacity="0.95" stroke="#104837" stroke-opacity="0.68" stroke-width="1.4"/>
<circle cx="792.0" cy="1189.6" r="10.7" fill="#2bb0aa" fill-opacity="0.95" stroke="#114644" stroke-opacity="0.68" stroke-width="1.4"/>
<circle cx="725.8" cy="1099.5" r="10.7" fill="#62c030" fill-opacity="0.95" stroke="#274c13" stroke-opacity="0.68" stroke-width="1.4"/>
<circle cx="689.0" cy="1111.0" r="10.7" fill="#96c632" fill-opacity="0.95" stroke="#3c4f14" stroke-opacity="0.68" stroke-width="1.4"/>
<circle cx="570.0" cy="1150.0" r="10.7" fill="#3cbf30" fill-opacity="0.95" stroke="#184c13" stroke-opacity="0.68" stroke-width="1.4"/>
<circle cx="579.0" cy="1145.0" r="10.7" fill="#62c030" fill-opacity="0.95" stroke="#274c13" stroke-opacity="0.68" stroke-width="1.4"/>
<circle cx="562.0" cy="1139.0" r="10.7" fill="#62c030" fill-opacity="0.95" stroke="#274c13" stroke-opacity="0.68" stroke-width="1.4"/>
<circle cx="546.8" cy="1169.2" r="10.7" fill="#2796c0" fill-opacity="0.95" stroke="#0f3c4c" stroke-opacity="0.68" stroke-width="1.4"/>
<circle cx="558.5" cy="1164.7" r="10.7" fill="#2796c0" fill-opacity="0.95" stroke="#0f3c4c" stroke-opacity="0.68" stroke-width="1.4"/>
<circle cx="564.8" cy="1176.4" r="10.7" fill="#2b72ba" fill-opacity="0.95" stroke="#112d4a" stroke-opacity="0.68" stroke-width="1.4"/>
</g>
<text x="984.4" y="1474" text-anchor="middle" font-size="40" fill="#000">(b)</text>
</svg>
</body></html>
